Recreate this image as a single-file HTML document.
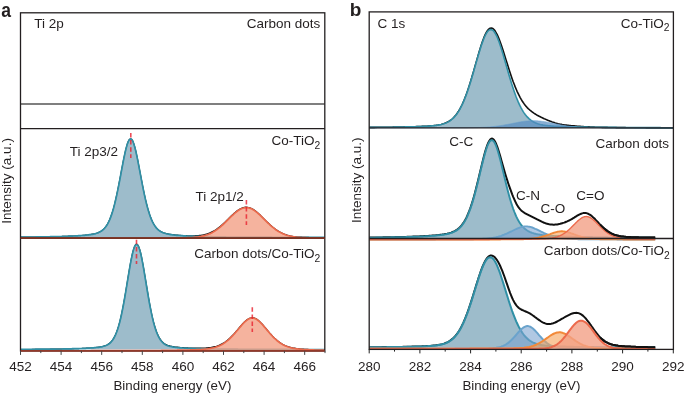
<!DOCTYPE html>
<html><head><meta charset="utf-8"><style>
html,body{margin:0;padding:0;background:#fff;}
body{width:685px;height:396px;overflow:hidden;position:relative;}
</style></head><body>
<svg width="685" height="396" viewBox="0 0 685 396" style="position:absolute;left:0;top:0;will-change:transform">
<rect width="685" height="396" fill="#fff"/>
<defs>
<clipPath id="ca"><rect x="20.5" y="12.8" width="304.3" height="338.1"/></clipPath>
<clipPath id="cb"><rect x="369.2" y="11.9" width="304.2" height="337.5"/></clipPath>
</defs>
<g clip-path="url(#ca)">
<line x1="20.5" y1="104" x2="324.8" y2="104" stroke="#555" stroke-width="1.7"/>
<path d="M20.5,237.1 21.5,237.1 22.5,237.1 23.5,237.1 24.5,237.1 25.5,237.1 26.5,237 27.5,237 28.5,237 29.5,237 30.5,237 31.5,237 32.5,237 33.5,237 34.5,237 35.5,237 36.5,236.9 37.5,236.9 38.5,236.9 39.5,236.9 40.5,236.9 41.5,236.9 42.5,236.9 43.5,236.8 44.5,236.8 45.5,236.8 46.5,236.8 47.5,236.8 48.5,236.8 49.5,236.7 50.5,236.7 51.5,236.7 52.5,236.7 53.5,236.7 54.5,236.6 55.5,236.6 56.5,236.6 57.5,236.6 58.5,236.5 59.5,236.5 60.5,236.5 61.5,236.5 62.5,236.4 63.5,236.4 64.5,236.4 65.5,236.3 66.5,236.3 67.5,236.3 68.5,236.2 69.5,236.2 70.5,236.1 71.5,236.1 72.5,236.1 73.5,236 74.5,236 75.5,235.9 76.5,235.8 77.5,235.8 78.5,235.7 79.5,235.7 80.5,235.6 81.5,235.5 82.5,235.4 83.5,235.3 84.5,235.3 85.5,235.2 86.5,235.1 87.5,235 88.5,234.8 89.5,234.7 90.5,234.6 91.5,234.4 92.5,234.2 93.5,234 94.5,233.8 95.5,233.6 96.5,233.3 97.5,232.9 98.5,232.6 99.5,232.1 100.5,231.6 101.5,230.9 102.5,230.2 103.5,229.3 104.5,228.3 105.5,227.1 106.5,225.7 107.5,224.1 108.5,222.2 109.5,220 110.5,217.6 111.5,214.8 112.5,211.7 113.5,208.3 114.5,204.6 115.5,200.5 116.5,196 117.5,191.3 118.5,186.4 119.5,181.2 120.5,176 121.5,170.6 122.5,165.3 123.5,160.2 124.5,155.3 125.5,150.8 126.5,146.8 127.5,143.5 128.5,141 129.5,139.4 130.5,138.8 131.5,139.2 132.5,140.6 133.5,142.9 134.5,146.1 135.5,149.9 136.5,154.3 137.5,159.1 138.5,164.3 139.5,169.5 140.5,174.9 141.5,180.2 142.5,185.4 143.5,190.3 144.5,195.1 145.5,199.6 146.5,203.7 147.5,207.6 148.5,211 149.5,214.2 150.5,217 151.5,219.5 152.5,221.7 153.5,223.7 154.5,225.3 155.5,226.8 156.5,228 157.5,229.1 158.5,230 159.5,230.7 160.5,231.4 161.5,231.9 162.5,232.4 163.5,232.8 164.5,233.1 165.5,233.4 166.5,233.7 167.5,233.9 168.5,234.1 169.5,234.3 170.5,234.4 171.5,234.6 172.5,234.7 173.5,234.8 174.5,234.9 175.5,235 176.5,235.1 177.5,235.2 178.5,235.3 179.5,235.4 180.5,235.4 181.5,235.5 182.5,235.6 183.5,235.6 184.5,235.7 185.5,235.7 186.5,235.7 187.5,235.8 188.5,235.8 189.5,235.8 190.5,235.8 191.5,235.8 192.5,235.8 193.5,235.8 194.5,235.8 195.5,235.7 196.5,235.7 197.5,235.6 198.5,235.5 199.5,235.4 200.5,235.3 201.5,235.2 202.5,235 203.5,234.8 204.5,234.6 205.5,234.3 206.5,234 207.5,233.7 208.5,233.4 209.5,233 210.5,232.6 211.5,232.1 212.5,231.6 213.5,231.1 214.5,230.5 215.5,229.9 216.5,229.2 217.5,228.5 218.5,227.7 219.5,227 220.5,226.1 221.5,225.3 222.5,224.4 223.5,223.5 224.5,222.6 225.5,221.6 226.5,220.6 227.5,219.6 228.5,218.7 229.5,217.7 230.5,216.7 231.5,215.7 232.5,214.8 233.5,213.8 234.5,213 235.5,212.1 236.5,211.3 237.5,210.6 238.5,209.9 239.5,209.3 240.5,208.7 241.5,208.2 242.5,207.9 243.5,207.6 244.5,207.4 245.5,207.2 246.5,207.2 247.5,207.3 248.5,207.5 249.5,207.7 250.5,208.1 251.5,208.5 252.5,209 253.5,209.6 254.5,210.2 255.5,211 256.5,211.8 257.5,212.6 258.5,213.5 259.5,214.4 260.5,215.3 261.5,216.3 262.5,217.3 263.5,218.3 264.5,219.3 265.5,220.3 266.5,221.3 267.5,222.3 268.5,223.2 269.5,224.2 270.5,225.1 271.5,226 272.5,226.9 273.5,227.7 274.5,228.5 275.5,229.2 276.5,229.9 277.5,230.6 278.5,231.2 279.5,231.8 280.5,232.4 281.5,232.9 282.5,233.4 283.5,233.8 284.5,234.2 285.5,234.6 286.5,234.9 287.5,235.2 288.5,235.5 289.5,235.7 290.5,236 291.5,236.2 292.5,236.3 293.5,236.5 294.5,236.6 295.5,236.8 296.5,236.9 297.5,237 298.5,237.1 299.5,237.1 300.5,237.2 301.5,237.2 302.5,237.3 303.5,237.3 304.5,237.4 305.5,237.4 306.5,237.4 307.5,237.4 308.5,237.4 309.5,237.5 310.5,237.5 311.5,237.5 312.5,237.5 313.5,237.5 314.5,237.5 315.5,237.5 316.5,237.5 317.5,237.5 318.5,237.5 319.5,237.5 320.5,237.5 321.5,237.5 322.5,237.5 323.5,237.5 324.5,237.5" fill="none" stroke="#111" stroke-width="1.2" stroke-linejoin="round"/>
<path d="M20.5,237.5 20.5,237.1 21.5,237.1 22.5,237.1 23.5,237.1 24.5,237.1 25.5,237 26.5,237 27.5,237 28.5,237 29.5,237 30.5,237 31.5,237 32.5,237 33.5,237 34.5,237 35.5,237 36.5,236.9 37.5,236.9 38.5,236.9 39.5,236.9 40.5,236.9 41.5,236.9 42.5,236.9 43.5,236.8 44.5,236.8 45.5,236.8 46.5,236.8 47.5,236.8 48.5,236.8 49.5,236.8 50.5,236.7 51.5,236.7 52.5,236.7 53.5,236.7 54.5,236.7 55.5,236.6 56.5,236.6 57.5,236.6 58.5,236.6 59.5,236.5 60.5,236.5 61.5,236.5 62.5,236.4 63.5,236.4 64.5,236.4 65.5,236.4 66.5,236.3 67.5,236.3 68.5,236.2 69.5,236.2 70.5,236.2 71.5,236.1 72.5,236.1 73.5,236 74.5,236 75.5,235.9 76.5,235.9 77.5,235.8 78.5,235.7 79.5,235.7 80.5,235.6 81.5,235.5 82.5,235.5 83.5,235.4 84.5,235.3 85.5,235.2 86.5,235.1 87.5,235 88.5,234.9 89.5,234.7 90.5,234.6 91.5,234.4 92.5,234.3 93.5,234.1 94.5,233.8 95.5,233.6 96.5,233.3 97.5,233 98.5,232.6 99.5,232.1 100.5,231.6 101.5,231 102.5,230.2 103.5,229.4 104.5,228.3 105.5,227.1 106.5,225.7 107.5,224.1 108.5,222.2 109.5,220.1 110.5,217.6 111.5,214.9 112.5,211.8 113.5,208.4 114.5,204.6 115.5,200.5 116.5,196.1 117.5,191.4 118.5,186.4 119.5,181.3 120.5,176 121.5,170.7 122.5,165.4 123.5,160.2 124.5,155.3 125.5,150.8 126.5,146.9 127.5,143.6 128.5,141.1 129.5,139.5 130.5,138.9 131.5,139.3 132.5,140.7 133.5,143 134.5,146.2 135.5,150 136.5,154.4 137.5,159.2 138.5,164.3 139.5,169.6 140.5,174.9 141.5,180.2 142.5,185.4 143.5,190.4 144.5,195.2 145.5,199.6 146.5,203.8 147.5,207.6 148.5,211.1 149.5,214.3 150.5,217.1 151.5,219.6 152.5,221.8 153.5,223.7 154.5,225.4 155.5,226.9 156.5,228.1 157.5,229.2 158.5,230.1 159.5,230.8 160.5,231.5 161.5,232 162.5,232.5 163.5,232.9 164.5,233.2 165.5,233.5 166.5,233.8 167.5,234 168.5,234.2 169.5,234.4 170.5,234.6 171.5,234.7 172.5,234.8 173.5,235 174.5,235.1 175.5,235.2 176.5,235.3 177.5,235.4 178.5,235.4 179.5,235.5 180.5,235.6 181.5,235.7 182.5,235.7 183.5,235.8 184.5,235.9 185.5,235.9 186.5,236 187.5,236 188.5,236.1 189.5,236.1 190.5,236.2 191.5,236.2 192.5,236.2 193.5,236.3 194.5,236.3 195.5,236.3 196.5,236.4 197.5,236.4 198.5,236.4 199.5,236.5 200.5,236.5 201.5,236.5 202.5,236.6 203.5,236.6 204.5,236.6 205.5,236.6 206.5,236.6 207.5,236.7 208.5,236.7 209.5,236.7 210.5,236.7 211.5,236.7 212.5,236.8 213.5,236.8 214.5,236.8 215.5,236.8 216.5,236.8 217.5,236.8 218.5,236.9 219.5,236.9 220.5,236.9 221.5,236.9 222.5,236.9 223.5,236.9 224.5,236.9 225.5,236.9 226.5,237 227.5,237 228.5,237 229.5,237 230.5,237 231.5,237 232.5,237 233.5,237 234.5,237 235.5,237 236.5,237.1 237.5,237.1 238.5,237.1 239.5,237.1 240.5,237.1 241.5,237.1 242.5,237.1 243.5,237.1 244.5,237.1 245.5,237.1 246.5,237.1 247.5,237.1 248.5,237.1 249.5,237.1 250.5,237.2 251.5,237.2 252.5,237.2 253.5,237.2 254.5,237.2 255.5,237.2 256.5,237.2 257.5,237.2 258.5,237.2 259.5,237.2 260.5,237.2 261.5,237.2 262.5,237.2 263.5,237.2 264.5,237.2 265.5,237.2 266.5,237.2 267.5,237.2 268.5,237.2 269.5,237.2 270.5,237.2 271.5,237.2 272.5,237.3 273.5,237.3 274.5,237.3 275.5,237.3 276.5,237.3 277.5,237.3 278.5,237.3 279.5,237.3 280.5,237.3 281.5,237.3 282.5,237.3 283.5,237.3 284.5,237.3 285.5,237.3 286.5,237.3 287.5,237.3 288.5,237.3 289.5,237.3 290.5,237.3 291.5,237.3 292.5,237.3 293.5,237.3 294.5,237.3 295.5,237.3 296.5,237.3 297.5,237.3 298.5,237.3 299.5,237.3 300.5,237.3 301.5,237.3 302.5,237.3 303.5,237.3 304.5,237.3 305.5,237.3 306.5,237.3 307.5,237.3 308.5,237.3 309.5,237.3 310.5,237.3 311.5,237.3 312.5,237.3 313.5,237.3 314.5,237.4 315.5,237.4 316.5,237.4 317.5,237.4 318.5,237.4 319.5,237.4 320.5,237.4 321.5,237.4 322.5,237.4 323.5,237.4 324.5,237.4 324.5,237.5Z" fill="#84abbe" fill-opacity="0.8" stroke="none"/>
<path d="M20.5,237.1 21.5,237.1 22.5,237.1 23.5,237.1 24.5,237.1 25.5,237 26.5,237 27.5,237 28.5,237 29.5,237 30.5,237 31.5,237 32.5,237 33.5,237 34.5,237 35.5,237 36.5,236.9 37.5,236.9 38.5,236.9 39.5,236.9 40.5,236.9 41.5,236.9 42.5,236.9 43.5,236.8 44.5,236.8 45.5,236.8 46.5,236.8 47.5,236.8 48.5,236.8 49.5,236.8 50.5,236.7 51.5,236.7 52.5,236.7 53.5,236.7 54.5,236.7 55.5,236.6 56.5,236.6 57.5,236.6 58.5,236.6 59.5,236.5 60.5,236.5 61.5,236.5 62.5,236.4 63.5,236.4 64.5,236.4 65.5,236.4 66.5,236.3 67.5,236.3 68.5,236.2 69.5,236.2 70.5,236.2 71.5,236.1 72.5,236.1 73.5,236 74.5,236 75.5,235.9 76.5,235.9 77.5,235.8 78.5,235.7 79.5,235.7 80.5,235.6 81.5,235.5 82.5,235.5 83.5,235.4 84.5,235.3 85.5,235.2 86.5,235.1 87.5,235 88.5,234.9 89.5,234.7 90.5,234.6 91.5,234.4 92.5,234.3 93.5,234.1 94.5,233.8 95.5,233.6 96.5,233.3 97.5,233 98.5,232.6 99.5,232.1 100.5,231.6 101.5,231 102.5,230.2 103.5,229.4 104.5,228.3 105.5,227.1 106.5,225.7 107.5,224.1 108.5,222.2 109.5,220.1 110.5,217.6 111.5,214.9 112.5,211.8 113.5,208.4 114.5,204.6 115.5,200.5 116.5,196.1 117.5,191.4 118.5,186.4 119.5,181.3 120.5,176 121.5,170.7 122.5,165.4 123.5,160.2 124.5,155.3 125.5,150.8 126.5,146.9 127.5,143.6 128.5,141.1 129.5,139.5 130.5,138.9 131.5,139.3 132.5,140.7 133.5,143 134.5,146.2 135.5,150 136.5,154.4 137.5,159.2 138.5,164.3 139.5,169.6 140.5,174.9 141.5,180.2 142.5,185.4 143.5,190.4 144.5,195.2 145.5,199.6 146.5,203.8 147.5,207.6 148.5,211.1 149.5,214.3 150.5,217.1 151.5,219.6 152.5,221.8 153.5,223.7 154.5,225.4 155.5,226.9 156.5,228.1 157.5,229.2 158.5,230.1 159.5,230.8 160.5,231.5 161.5,232 162.5,232.5 163.5,232.9 164.5,233.2 165.5,233.5 166.5,233.8 167.5,234 168.5,234.2 169.5,234.4 170.5,234.6 171.5,234.7 172.5,234.8 173.5,235 174.5,235.1 175.5,235.2 176.5,235.3 177.5,235.4 178.5,235.4 179.5,235.5 180.5,235.6 181.5,235.7 182.5,235.7 183.5,235.8 184.5,235.9 185.5,235.9 186.5,236 187.5,236 188.5,236.1 189.5,236.1 190.5,236.2 191.5,236.2 192.5,236.2 193.5,236.3 194.5,236.3 195.5,236.3 196.5,236.4 197.5,236.4 198.5,236.4 199.5,236.5 200.5,236.5 201.5,236.5 202.5,236.6 203.5,236.6 204.5,236.6 205.5,236.6 206.5,236.6 207.5,236.7 208.5,236.7 209.5,236.7 210.5,236.7 211.5,236.7 212.5,236.8 213.5,236.8 214.5,236.8 215.5,236.8 216.5,236.8 217.5,236.8 218.5,236.9 219.5,236.9 220.5,236.9 221.5,236.9 222.5,236.9 223.5,236.9 224.5,236.9 225.5,236.9 226.5,237 227.5,237 228.5,237 229.5,237 230.5,237 231.5,237 232.5,237 233.5,237 234.5,237 235.5,237 236.5,237.1 237.5,237.1 238.5,237.1 239.5,237.1 240.5,237.1 241.5,237.1 242.5,237.1 243.5,237.1 244.5,237.1 245.5,237.1 246.5,237.1 247.5,237.1 248.5,237.1 249.5,237.1 250.5,237.2 251.5,237.2 252.5,237.2 253.5,237.2 254.5,237.2 255.5,237.2 256.5,237.2 257.5,237.2 258.5,237.2 259.5,237.2 260.5,237.2 261.5,237.2 262.5,237.2 263.5,237.2 264.5,237.2 265.5,237.2 266.5,237.2 267.5,237.2 268.5,237.2 269.5,237.2 270.5,237.2 271.5,237.2 272.5,237.3 273.5,237.3 274.5,237.3 275.5,237.3 276.5,237.3 277.5,237.3 278.5,237.3 279.5,237.3 280.5,237.3 281.5,237.3 282.5,237.3 283.5,237.3 284.5,237.3 285.5,237.3 286.5,237.3 287.5,237.3 288.5,237.3 289.5,237.3 290.5,237.3 291.5,237.3 292.5,237.3 293.5,237.3 294.5,237.3 295.5,237.3 296.5,237.3 297.5,237.3 298.5,237.3 299.5,237.3 300.5,237.3 301.5,237.3 302.5,237.3 303.5,237.3 304.5,237.3 305.5,237.3 306.5,237.3 307.5,237.3 308.5,237.3 309.5,237.3 310.5,237.3 311.5,237.3 312.5,237.3 313.5,237.3 314.5,237.4 315.5,237.4 316.5,237.4 317.5,237.4 318.5,237.4 319.5,237.4 320.5,237.4 321.5,237.4 322.5,237.4 323.5,237.4 324.5,237.4" fill="none" stroke="#3090a6" stroke-width="1.7" stroke-linejoin="round"/>
<path d="M20.5,238.1 20.5,238.1 21.5,238.1 22.5,238.1 23.5,238.1 24.5,238.1 25.5,238.1 26.5,238.1 27.5,238.1 28.5,238.1 29.5,238.1 30.5,238.1 31.5,238.1 32.5,238.1 33.5,238.1 34.5,238.1 35.5,238.1 36.5,238.1 37.5,238.1 38.5,238.1 39.5,238.1 40.5,238.1 41.5,238.1 42.5,238.1 43.5,238.1 44.5,238.1 45.5,238.1 46.5,238.1 47.5,238.1 48.5,238.1 49.5,238.1 50.5,238.1 51.5,238.1 52.5,238.1 53.5,238.1 54.5,238.1 55.5,238.1 56.5,238.1 57.5,238.1 58.5,238.1 59.5,238.1 60.5,238.1 61.5,238.1 62.5,238.1 63.5,238.1 64.5,238.1 65.5,238.1 66.5,238.1 67.5,238.1 68.5,238.1 69.5,238.1 70.5,238.1 71.5,238.1 72.5,238.1 73.5,238.1 74.5,238.1 75.5,238.1 76.5,238.1 77.5,238.1 78.5,238.1 79.5,238.1 80.5,238.1 81.5,238.1 82.5,238.1 83.5,238.1 84.5,238.1 85.5,238.1 86.5,238.1 87.5,238.1 88.5,238.1 89.5,238.1 90.5,238.1 91.5,238.1 92.5,238.1 93.5,238.1 94.5,238.1 95.5,238.1 96.5,238.1 97.5,238.1 98.5,238.1 99.5,238.1 100.5,238.1 101.5,238.1 102.5,238.1 103.5,238.1 104.5,238.1 105.5,238.1 106.5,238.1 107.5,238.1 108.5,238.1 109.5,238.1 110.5,238.1 111.5,238.1 112.5,238.1 113.5,238.1 114.5,238.1 115.5,238.1 116.5,238.1 117.5,238.1 118.5,238 119.5,238 120.5,238 121.5,238 122.5,238 123.5,238 124.5,238 125.5,238 126.5,238 127.5,238 128.5,238 129.5,238 130.5,238 131.5,238 132.5,238 133.5,238 134.5,238 135.5,238 136.5,238 137.5,238 138.5,238 139.5,238 140.5,238 141.5,238 142.5,238 143.5,238 144.5,238 145.5,238 146.5,238 147.5,238 148.5,238 149.5,238 150.5,238 151.5,238 152.5,238 153.5,238 154.5,238 155.5,238 156.5,238 157.5,238 158.5,238 159.5,238 160.5,238 161.5,238 162.5,238 163.5,238 164.5,238 165.5,238 166.5,238 167.5,238 168.5,238 169.5,238 170.5,238 171.5,238 172.5,237.9 173.5,237.9 174.5,237.9 175.5,237.9 176.5,237.9 177.5,237.9 178.5,237.9 179.5,237.9 180.5,237.9 181.5,237.9 182.5,237.8 183.5,237.8 184.5,237.8 185.5,237.8 186.5,237.8 187.5,237.7 188.5,237.7 189.5,237.6 190.5,237.6 191.5,237.5 192.5,237.5 193.5,237.4 194.5,237.3 195.5,237.2 196.5,237.1 197.5,237 198.5,236.9 199.5,236.7 200.5,236.5 201.5,236.3 202.5,236.1 203.5,235.9 204.5,235.6 205.5,235.3 206.5,235 207.5,234.7 208.5,234.3 209.5,233.9 210.5,233.4 211.5,232.9 212.5,232.4 213.5,231.8 214.5,231.2 215.5,230.6 216.5,229.9 217.5,229.2 218.5,228.4 219.5,227.6 220.5,226.8 221.5,225.9 222.5,225 223.5,224.1 224.5,223.1 225.5,222.2 226.5,221.2 227.5,220.2 228.5,219.2 229.5,218.2 230.5,217.2 231.5,216.2 232.5,215.3 233.5,214.3 234.5,213.4 235.5,212.6 236.5,211.8 237.5,211 238.5,210.3 239.5,209.7 240.5,209.1 241.5,208.7 242.5,208.3 243.5,208 244.5,207.8 245.5,207.6 246.5,207.6 247.5,207.7 248.5,207.8 249.5,208.1 250.5,208.4 251.5,208.8 252.5,209.3 253.5,209.9 254.5,210.6 255.5,211.3 256.5,212.1 257.5,212.9 258.5,213.8 259.5,214.7 260.5,215.6 261.5,216.6 262.5,217.6 263.5,218.6 264.5,219.6 265.5,220.6 266.5,221.6 267.5,222.6 268.5,223.5 269.5,224.5 270.5,225.4 271.5,226.3 272.5,227.1 273.5,227.9 274.5,228.7 275.5,229.5 276.5,230.2 277.5,230.9 278.5,231.5 279.5,232.1 280.5,232.6 281.5,233.1 282.5,233.6 283.5,234 284.5,234.4 285.5,234.8 286.5,235.2 287.5,235.5 288.5,235.7 289.5,236 290.5,236.2 291.5,236.4 292.5,236.6 293.5,236.8 294.5,236.9 295.5,237 296.5,237.2 297.5,237.3 298.5,237.4 299.5,237.4 300.5,237.5 301.5,237.6 302.5,237.6 303.5,237.7 304.5,237.7 305.5,237.7 306.5,237.8 307.5,237.8 308.5,237.8 309.5,237.8 310.5,237.9 311.5,237.9 312.5,237.9 313.5,237.9 314.5,237.9 315.5,237.9 316.5,237.9 317.5,237.9 318.5,237.9 319.5,237.9 320.5,238 321.5,238 322.5,238 323.5,238 324.5,238 324.5,238.1Z" fill="#f2a086" fill-opacity="0.8" stroke="none"/>
<path d="M20.5,238.1 21.5,238.1 22.5,238.1 23.5,238.1 24.5,238.1 25.5,238.1 26.5,238.1 27.5,238.1 28.5,238.1 29.5,238.1 30.5,238.1 31.5,238.1 32.5,238.1 33.5,238.1 34.5,238.1 35.5,238.1 36.5,238.1 37.5,238.1 38.5,238.1 39.5,238.1 40.5,238.1 41.5,238.1 42.5,238.1 43.5,238.1 44.5,238.1 45.5,238.1 46.5,238.1 47.5,238.1 48.5,238.1 49.5,238.1 50.5,238.1 51.5,238.1 52.5,238.1 53.5,238.1 54.5,238.1 55.5,238.1 56.5,238.1 57.5,238.1 58.5,238.1 59.5,238.1 60.5,238.1 61.5,238.1 62.5,238.1 63.5,238.1 64.5,238.1 65.5,238.1 66.5,238.1 67.5,238.1 68.5,238.1 69.5,238.1 70.5,238.1 71.5,238.1 72.5,238.1 73.5,238.1 74.5,238.1 75.5,238.1 76.5,238.1 77.5,238.1 78.5,238.1 79.5,238.1 80.5,238.1 81.5,238.1 82.5,238.1 83.5,238.1 84.5,238.1 85.5,238.1 86.5,238.1 87.5,238.1 88.5,238.1 89.5,238.1 90.5,238.1 91.5,238.1 92.5,238.1 93.5,238.1 94.5,238.1 95.5,238.1 96.5,238.1 97.5,238.1 98.5,238.1 99.5,238.1 100.5,238.1 101.5,238.1 102.5,238.1 103.5,238.1 104.5,238.1 105.5,238.1 106.5,238.1 107.5,238.1 108.5,238.1 109.5,238.1 110.5,238.1 111.5,238.1 112.5,238.1 113.5,238.1 114.5,238.1 115.5,238.1 116.5,238.1 117.5,238.1 118.5,238 119.5,238 120.5,238 121.5,238 122.5,238 123.5,238 124.5,238 125.5,238 126.5,238 127.5,238 128.5,238 129.5,238 130.5,238 131.5,238 132.5,238 133.5,238 134.5,238 135.5,238 136.5,238 137.5,238 138.5,238 139.5,238 140.5,238 141.5,238 142.5,238 143.5,238 144.5,238 145.5,238 146.5,238 147.5,238 148.5,238 149.5,238 150.5,238 151.5,238 152.5,238 153.5,238 154.5,238 155.5,238 156.5,238 157.5,238 158.5,238 159.5,238 160.5,238 161.5,238 162.5,238 163.5,238 164.5,238 165.5,238 166.5,238 167.5,238 168.5,238 169.5,238 170.5,238 171.5,238 172.5,237.9 173.5,237.9 174.5,237.9 175.5,237.9 176.5,237.9 177.5,237.9 178.5,237.9 179.5,237.9 180.5,237.9 181.5,237.9 182.5,237.8 183.5,237.8 184.5,237.8 185.5,237.8 186.5,237.8 187.5,237.7 188.5,237.7 189.5,237.6 190.5,237.6 191.5,237.5 192.5,237.5 193.5,237.4 194.5,237.3 195.5,237.2 196.5,237.1 197.5,237 198.5,236.9 199.5,236.7 200.5,236.5 201.5,236.3 202.5,236.1 203.5,235.9 204.5,235.6 205.5,235.3 206.5,235 207.5,234.7 208.5,234.3 209.5,233.9 210.5,233.4 211.5,232.9 212.5,232.4 213.5,231.8 214.5,231.2 215.5,230.6 216.5,229.9 217.5,229.2 218.5,228.4 219.5,227.6 220.5,226.8 221.5,225.9 222.5,225 223.5,224.1 224.5,223.1 225.5,222.2 226.5,221.2 227.5,220.2 228.5,219.2 229.5,218.2 230.5,217.2 231.5,216.2 232.5,215.3 233.5,214.3 234.5,213.4 235.5,212.6 236.5,211.8 237.5,211 238.5,210.3 239.5,209.7 240.5,209.1 241.5,208.7 242.5,208.3 243.5,208 244.5,207.8 245.5,207.6 246.5,207.6 247.5,207.7 248.5,207.8 249.5,208.1 250.5,208.4 251.5,208.8 252.5,209.3 253.5,209.9 254.5,210.6 255.5,211.3 256.5,212.1 257.5,212.9 258.5,213.8 259.5,214.7 260.5,215.6 261.5,216.6 262.5,217.6 263.5,218.6 264.5,219.6 265.5,220.6 266.5,221.6 267.5,222.6 268.5,223.5 269.5,224.5 270.5,225.4 271.5,226.3 272.5,227.1 273.5,227.9 274.5,228.7 275.5,229.5 276.5,230.2 277.5,230.9 278.5,231.5 279.5,232.1 280.5,232.6 281.5,233.1 282.5,233.6 283.5,234 284.5,234.4 285.5,234.8 286.5,235.2 287.5,235.5 288.5,235.7 289.5,236 290.5,236.2 291.5,236.4 292.5,236.6 293.5,236.8 294.5,236.9 295.5,237 296.5,237.2 297.5,237.3 298.5,237.4 299.5,237.4 300.5,237.5 301.5,237.6 302.5,237.6 303.5,237.7 304.5,237.7 305.5,237.7 306.5,237.8 307.5,237.8 308.5,237.8 309.5,237.8 310.5,237.9 311.5,237.9 312.5,237.9 313.5,237.9 314.5,237.9 315.5,237.9 316.5,237.9 317.5,237.9 318.5,237.9 319.5,237.9 320.5,238 321.5,238 322.5,238 323.5,238 324.5,238" fill="none" stroke="#ec6a4c" stroke-width="1.7" stroke-linejoin="round"/>
<path d="M20.5,349.5 21.5,349.5 22.5,349.5 23.5,349.5 24.5,349.5 25.5,349.5 26.5,349.5 27.5,349.5 28.5,349.5 29.5,349.5 30.5,349.5 31.5,349.5 32.5,349.4 33.5,349.4 34.5,349.4 35.5,349.4 36.5,349.4 37.5,349.4 38.5,349.4 39.5,349.4 40.5,349.4 41.5,349.4 42.5,349.3 43.5,349.3 44.5,349.3 45.5,349.3 46.5,349.3 47.5,349.3 48.5,349.3 49.5,349.3 50.5,349.2 51.5,349.2 52.5,349.2 53.5,349.2 54.5,349.2 55.5,349.2 56.5,349.1 57.5,349.1 58.5,349.1 59.5,349.1 60.5,349.1 61.5,349.1 62.5,349 63.5,349 64.5,349 65.5,349 66.5,348.9 67.5,348.9 68.5,348.9 69.5,348.9 70.5,348.8 71.5,348.8 72.5,348.8 73.5,348.8 74.5,348.7 75.5,348.7 76.5,348.7 77.5,348.6 78.5,348.6 79.5,348.5 80.5,348.5 81.5,348.5 82.5,348.4 83.5,348.4 84.5,348.3 85.5,348.3 86.5,348.2 87.5,348.2 88.5,348.1 89.5,348 90.5,348 91.5,347.9 92.5,347.8 93.5,347.7 94.5,347.6 95.5,347.5 96.5,347.4 97.5,347.3 98.5,347.2 99.5,347 100.5,346.9 101.5,346.7 102.5,346.5 103.5,346.2 104.5,345.9 105.5,345.6 106.5,345.2 107.5,344.7 108.5,344 109.5,343.3 110.5,342.4 111.5,341.4 112.5,340.1 113.5,338.6 114.5,336.8 115.5,334.7 116.5,332.3 117.5,329.5 118.5,326.4 119.5,322.8 120.5,318.8 121.5,314.3 122.5,309.5 123.5,304.3 124.5,298.8 125.5,293 126.5,287 127.5,280.9 128.5,274.8 129.5,268.8 130.5,263.2 131.5,258 132.5,253.4 133.5,249.6 134.5,246.7 135.5,244.8 136.5,244.1 137.5,244.6 138.5,246.2 139.5,248.9 140.5,252.5 141.5,256.9 142.5,262 143.5,267.6 144.5,273.5 145.5,279.5 146.5,285.6 147.5,291.7 148.5,297.5 149.5,303.1 150.5,308.4 151.5,313.3 152.5,317.8 153.5,321.9 154.5,325.5 155.5,328.8 156.5,331.6 157.5,334.1 158.5,336.2 159.5,338.1 160.5,339.6 161.5,340.9 162.5,342 163.5,342.9 164.5,343.7 165.5,344.3 166.5,344.8 167.5,345.3 168.5,345.6 169.5,345.9 170.5,346.2 171.5,346.4 172.5,346.6 173.5,346.7 174.5,346.9 175.5,347 176.5,347.1 177.5,347.2 178.5,347.3 179.5,347.4 180.5,347.5 181.5,347.6 182.5,347.6 183.5,347.7 184.5,347.8 185.5,347.8 186.5,347.9 187.5,347.9 188.5,348 189.5,348 190.5,348 191.5,348.1 192.5,348.1 193.5,348.1 194.5,348.1 195.5,348.1 196.5,348.2 197.5,348.2 198.5,348.2 199.5,348.2 200.5,348.1 201.5,348.1 202.5,348.1 203.5,348.1 204.5,348 205.5,348 206.5,347.9 207.5,347.8 208.5,347.7 209.5,347.6 210.5,347.5 211.5,347.3 212.5,347.1 213.5,346.9 214.5,346.7 215.5,346.5 216.5,346.2 217.5,345.8 218.5,345.5 219.5,345.1 220.5,344.6 221.5,344.1 222.5,343.6 223.5,343 224.5,342.4 225.5,341.7 226.5,340.9 227.5,340.1 228.5,339.3 229.5,338.4 230.5,337.5 231.5,336.5 232.5,335.4 233.5,334.4 234.5,333.3 235.5,332.1 236.5,331 237.5,329.8 238.5,328.6 239.5,327.4 240.5,326.2 241.5,325.1 242.5,324 243.5,322.9 244.5,321.9 245.5,321 246.5,320.1 247.5,319.4 248.5,318.8 249.5,318.3 250.5,318 251.5,317.8 252.5,317.7 253.5,317.8 254.5,318.1 255.5,318.5 256.5,319.1 257.5,319.7 258.5,320.5 259.5,321.4 260.5,322.4 261.5,323.4 262.5,324.5 263.5,325.7 264.5,326.8 265.5,328 266.5,329.2 267.5,330.4 268.5,331.6 269.5,332.8 270.5,333.9 271.5,335 272.5,336.1 273.5,337.1 274.5,338.1 275.5,339 276.5,339.9 277.5,340.8 278.5,341.5 279.5,342.3 280.5,343 281.5,343.6 282.5,344.2 283.5,344.7 284.5,345.2 285.5,345.7 286.5,346.1 287.5,346.5 288.5,346.8 289.5,347.1 290.5,347.4 291.5,347.6 292.5,347.9 293.5,348.1 294.5,348.2 295.5,348.4 296.5,348.6 297.5,348.7 298.5,348.8 299.5,348.9 300.5,349 301.5,349.1 302.5,349.2 303.5,349.2 304.5,349.3 305.5,349.3 306.5,349.4 307.5,349.4 308.5,349.5 309.5,349.5 310.5,349.6 311.5,349.6 312.5,349.6 313.5,349.7 314.5,349.7 315.5,349.7 316.5,349.8 317.5,349.8 318.5,349.8 319.5,349.8 320.5,349.8 321.5,349.9 322.5,349.9 323.5,349.9 324.5,349.9" fill="none" stroke="#111" stroke-width="1.2" stroke-linejoin="round"/>
<path d="M20.5,349.6 20.5,349.3 21.5,349.3 22.5,349.3 23.5,349.3 24.5,349.3 25.5,349.3 26.5,349.3 27.5,349.3 28.5,349.3 29.5,349.3 30.5,349.3 31.5,349.3 32.5,349.3 33.5,349.3 34.5,349.3 35.5,349.2 36.5,349.2 37.5,349.2 38.5,349.2 39.5,349.2 40.5,349.2 41.5,349.2 42.5,349.2 43.5,349.2 44.5,349.2 45.5,349.2 46.5,349.2 47.5,349.2 48.5,349.1 49.5,349.1 50.5,349.1 51.5,349.1 52.5,349.1 53.5,349.1 54.5,349.1 55.5,349.1 56.5,349 57.5,349 58.5,349 59.5,349 60.5,349 61.5,349 62.5,349 63.5,348.9 64.5,348.9 65.5,348.9 66.5,348.9 67.5,348.9 68.5,348.8 69.5,348.8 70.5,348.8 71.5,348.8 72.5,348.7 73.5,348.7 74.5,348.7 75.5,348.7 76.5,348.6 77.5,348.6 78.5,348.6 79.5,348.5 80.5,348.5 81.5,348.5 82.5,348.4 83.5,348.4 84.5,348.3 85.5,348.3 86.5,348.2 87.5,348.2 88.5,348.1 89.5,348.1 90.5,348 91.5,347.9 92.5,347.9 93.5,347.8 94.5,347.7 95.5,347.6 96.5,347.5 97.5,347.4 98.5,347.3 99.5,347.1 100.5,347 101.5,346.8 102.5,346.6 103.5,346.3 104.5,346 105.5,345.7 106.5,345.3 107.5,344.8 108.5,344.2 109.5,343.5 110.5,342.6 111.5,341.5 112.5,340.3 113.5,338.8 114.5,337 115.5,334.9 116.5,332.5 117.5,329.7 118.5,326.6 119.5,323 120.5,319 121.5,314.6 122.5,309.7 123.5,304.5 124.5,299 125.5,293.2 126.5,287.2 127.5,281.1 128.5,275 129.5,269.1 130.5,263.4 131.5,258.2 132.5,253.6 133.5,249.8 134.5,246.9 135.5,245.1 136.5,244.4 137.5,244.9 138.5,246.5 139.5,249.2 140.5,252.8 141.5,257.3 142.5,262.3 143.5,267.9 144.5,273.8 145.5,279.9 146.5,286 147.5,292 148.5,297.9 149.5,303.5 150.5,308.7 151.5,313.6 152.5,318.1 153.5,322.2 154.5,325.9 155.5,329.1 156.5,332 157.5,334.5 158.5,336.6 159.5,338.4 160.5,340 161.5,341.3 162.5,342.4 163.5,343.3 164.5,344.1 165.5,344.7 166.5,345.2 167.5,345.6 168.5,346 169.5,346.3 170.5,346.5 171.5,346.7 172.5,346.9 173.5,347.1 174.5,347.2 175.5,347.4 176.5,347.5 177.5,347.6 178.5,347.7 179.5,347.8 180.5,347.8 181.5,347.9 182.5,348 183.5,348 184.5,348.1 185.5,348.2 186.5,348.2 187.5,348.3 188.5,348.3 189.5,348.4 190.5,348.4 191.5,348.4 192.5,348.5 193.5,348.5 194.5,348.6 195.5,348.6 196.5,348.6 197.5,348.7 198.5,348.7 199.5,348.7 200.5,348.7 201.5,348.8 202.5,348.8 203.5,348.8 204.5,348.8 205.5,348.9 206.5,348.9 207.5,348.9 208.5,348.9 209.5,348.9 210.5,349 211.5,349 212.5,349 213.5,349 214.5,349 215.5,349 216.5,349 217.5,349.1 218.5,349.1 219.5,349.1 220.5,349.1 221.5,349.1 222.5,349.1 223.5,349.1 224.5,349.1 225.5,349.1 226.5,349.2 227.5,349.2 228.5,349.2 229.5,349.2 230.5,349.2 231.5,349.2 232.5,349.2 233.5,349.2 234.5,349.2 235.5,349.2 236.5,349.2 237.5,349.2 238.5,349.3 239.5,349.3 240.5,349.3 241.5,349.3 242.5,349.3 243.5,349.3 244.5,349.3 245.5,349.3 246.5,349.3 247.5,349.3 248.5,349.3 249.5,349.3 250.5,349.3 251.5,349.3 252.5,349.3 253.5,349.3 254.5,349.3 255.5,349.3 256.5,349.3 257.5,349.4 258.5,349.4 259.5,349.4 260.5,349.4 261.5,349.4 262.5,349.4 263.5,349.4 264.5,349.4 265.5,349.4 266.5,349.4 267.5,349.4 268.5,349.4 269.5,349.4 270.5,349.4 271.5,349.4 272.5,349.4 273.5,349.4 274.5,349.4 275.5,349.4 276.5,349.4 277.5,349.4 278.5,349.4 279.5,349.4 280.5,349.4 281.5,349.4 282.5,349.4 283.5,349.4 284.5,349.4 285.5,349.4 286.5,349.4 287.5,349.4 288.5,349.4 289.5,349.4 290.5,349.4 291.5,349.4 292.5,349.5 293.5,349.5 294.5,349.5 295.5,349.5 296.5,349.5 297.5,349.5 298.5,349.5 299.5,349.5 300.5,349.5 301.5,349.5 302.5,349.5 303.5,349.5 304.5,349.5 305.5,349.5 306.5,349.5 307.5,349.5 308.5,349.5 309.5,349.5 310.5,349.5 311.5,349.5 312.5,349.5 313.5,349.5 314.5,349.5 315.5,349.5 316.5,349.5 317.5,349.5 318.5,349.5 319.5,349.5 320.5,349.5 321.5,349.5 322.5,349.5 323.5,349.5 324.5,349.5 324.5,349.6Z" fill="#84abbe" fill-opacity="0.8" stroke="none"/>
<path d="M20.5,349.3 21.5,349.3 22.5,349.3 23.5,349.3 24.5,349.3 25.5,349.3 26.5,349.3 27.5,349.3 28.5,349.3 29.5,349.3 30.5,349.3 31.5,349.3 32.5,349.3 33.5,349.3 34.5,349.3 35.5,349.2 36.5,349.2 37.5,349.2 38.5,349.2 39.5,349.2 40.5,349.2 41.5,349.2 42.5,349.2 43.5,349.2 44.5,349.2 45.5,349.2 46.5,349.2 47.5,349.2 48.5,349.1 49.5,349.1 50.5,349.1 51.5,349.1 52.5,349.1 53.5,349.1 54.5,349.1 55.5,349.1 56.5,349 57.5,349 58.5,349 59.5,349 60.5,349 61.5,349 62.5,349 63.5,348.9 64.5,348.9 65.5,348.9 66.5,348.9 67.5,348.9 68.5,348.8 69.5,348.8 70.5,348.8 71.5,348.8 72.5,348.7 73.5,348.7 74.5,348.7 75.5,348.7 76.5,348.6 77.5,348.6 78.5,348.6 79.5,348.5 80.5,348.5 81.5,348.5 82.5,348.4 83.5,348.4 84.5,348.3 85.5,348.3 86.5,348.2 87.5,348.2 88.5,348.1 89.5,348.1 90.5,348 91.5,347.9 92.5,347.9 93.5,347.8 94.5,347.7 95.5,347.6 96.5,347.5 97.5,347.4 98.5,347.3 99.5,347.1 100.5,347 101.5,346.8 102.5,346.6 103.5,346.3 104.5,346 105.5,345.7 106.5,345.3 107.5,344.8 108.5,344.2 109.5,343.5 110.5,342.6 111.5,341.5 112.5,340.3 113.5,338.8 114.5,337 115.5,334.9 116.5,332.5 117.5,329.7 118.5,326.6 119.5,323 120.5,319 121.5,314.6 122.5,309.7 123.5,304.5 124.5,299 125.5,293.2 126.5,287.2 127.5,281.1 128.5,275 129.5,269.1 130.5,263.4 131.5,258.2 132.5,253.6 133.5,249.8 134.5,246.9 135.5,245.1 136.5,244.4 137.5,244.9 138.5,246.5 139.5,249.2 140.5,252.8 141.5,257.3 142.5,262.3 143.5,267.9 144.5,273.8 145.5,279.9 146.5,286 147.5,292 148.5,297.9 149.5,303.5 150.5,308.7 151.5,313.6 152.5,318.1 153.5,322.2 154.5,325.9 155.5,329.1 156.5,332 157.5,334.5 158.5,336.6 159.5,338.4 160.5,340 161.5,341.3 162.5,342.4 163.5,343.3 164.5,344.1 165.5,344.7 166.5,345.2 167.5,345.6 168.5,346 169.5,346.3 170.5,346.5 171.5,346.7 172.5,346.9 173.5,347.1 174.5,347.2 175.5,347.4 176.5,347.5 177.5,347.6 178.5,347.7 179.5,347.8 180.5,347.8 181.5,347.9 182.5,348 183.5,348 184.5,348.1 185.5,348.2 186.5,348.2 187.5,348.3 188.5,348.3 189.5,348.4 190.5,348.4 191.5,348.4 192.5,348.5 193.5,348.5 194.5,348.6 195.5,348.6 196.5,348.6 197.5,348.7 198.5,348.7 199.5,348.7 200.5,348.7 201.5,348.8 202.5,348.8 203.5,348.8 204.5,348.8 205.5,348.9 206.5,348.9 207.5,348.9 208.5,348.9 209.5,348.9 210.5,349 211.5,349 212.5,349 213.5,349 214.5,349 215.5,349 216.5,349 217.5,349.1 218.5,349.1 219.5,349.1 220.5,349.1 221.5,349.1 222.5,349.1 223.5,349.1 224.5,349.1 225.5,349.1 226.5,349.2 227.5,349.2 228.5,349.2 229.5,349.2 230.5,349.2 231.5,349.2 232.5,349.2 233.5,349.2 234.5,349.2 235.5,349.2 236.5,349.2 237.5,349.2 238.5,349.3 239.5,349.3 240.5,349.3 241.5,349.3 242.5,349.3 243.5,349.3 244.5,349.3 245.5,349.3 246.5,349.3 247.5,349.3 248.5,349.3 249.5,349.3 250.5,349.3 251.5,349.3 252.5,349.3 253.5,349.3 254.5,349.3 255.5,349.3 256.5,349.3 257.5,349.4 258.5,349.4 259.5,349.4 260.5,349.4 261.5,349.4 262.5,349.4 263.5,349.4 264.5,349.4 265.5,349.4 266.5,349.4 267.5,349.4 268.5,349.4 269.5,349.4 270.5,349.4 271.5,349.4 272.5,349.4 273.5,349.4 274.5,349.4 275.5,349.4 276.5,349.4 277.5,349.4 278.5,349.4 279.5,349.4 280.5,349.4 281.5,349.4 282.5,349.4 283.5,349.4 284.5,349.4 285.5,349.4 286.5,349.4 287.5,349.4 288.5,349.4 289.5,349.4 290.5,349.4 291.5,349.4 292.5,349.5 293.5,349.5 294.5,349.5 295.5,349.5 296.5,349.5 297.5,349.5 298.5,349.5 299.5,349.5 300.5,349.5 301.5,349.5 302.5,349.5 303.5,349.5 304.5,349.5 305.5,349.5 306.5,349.5 307.5,349.5 308.5,349.5 309.5,349.5 310.5,349.5 311.5,349.5 312.5,349.5 313.5,349.5 314.5,349.5 315.5,349.5 316.5,349.5 317.5,349.5 318.5,349.5 319.5,349.5 320.5,349.5 321.5,349.5 322.5,349.5 323.5,349.5 324.5,349.5" fill="none" stroke="#3090a6" stroke-width="1.7" stroke-linejoin="round"/>
<path d="M20.5,350.9 20.5,350.8 21.5,350.8 22.5,350.8 23.5,350.8 24.5,350.8 25.5,350.8 26.5,350.8 27.5,350.8 28.5,350.8 29.5,350.8 30.5,350.8 31.5,350.8 32.5,350.8 33.5,350.8 34.5,350.8 35.5,350.8 36.5,350.8 37.5,350.8 38.5,350.8 39.5,350.8 40.5,350.8 41.5,350.8 42.5,350.8 43.5,350.8 44.5,350.8 45.5,350.8 46.5,350.8 47.5,350.8 48.5,350.8 49.5,350.8 50.5,350.8 51.5,350.8 52.5,350.8 53.5,350.8 54.5,350.8 55.5,350.8 56.5,350.8 57.5,350.8 58.5,350.8 59.5,350.8 60.5,350.8 61.5,350.8 62.5,350.8 63.5,350.8 64.5,350.8 65.5,350.8 66.5,350.8 67.5,350.8 68.5,350.8 69.5,350.8 70.5,350.8 71.5,350.8 72.5,350.8 73.5,350.8 74.5,350.8 75.5,350.8 76.5,350.8 77.5,350.8 78.5,350.8 79.5,350.8 80.5,350.8 81.5,350.8 82.5,350.8 83.5,350.8 84.5,350.8 85.5,350.8 86.5,350.8 87.5,350.8 88.5,350.8 89.5,350.8 90.5,350.8 91.5,350.7 92.5,350.7 93.5,350.7 94.5,350.7 95.5,350.7 96.5,350.7 97.5,350.7 98.5,350.7 99.5,350.7 100.5,350.7 101.5,350.7 102.5,350.7 103.5,350.7 104.5,350.7 105.5,350.7 106.5,350.7 107.5,350.7 108.5,350.7 109.5,350.7 110.5,350.7 111.5,350.7 112.5,350.7 113.5,350.7 114.5,350.7 115.5,350.7 116.5,350.7 117.5,350.7 118.5,350.7 119.5,350.7 120.5,350.7 121.5,350.7 122.5,350.7 123.5,350.7 124.5,350.7 125.5,350.7 126.5,350.7 127.5,350.7 128.5,350.6 129.5,350.6 130.5,350.6 131.5,350.6 132.5,350.6 133.5,350.6 134.5,350.6 135.5,350.6 136.5,350.6 137.5,350.6 138.5,350.6 139.5,350.6 140.5,350.6 141.5,350.6 142.5,350.6 143.5,350.6 144.5,350.6 145.5,350.6 146.5,350.6 147.5,350.6 148.5,350.5 149.5,350.5 150.5,350.5 151.5,350.5 152.5,350.5 153.5,350.5 154.5,350.5 155.5,350.5 156.5,350.5 157.5,350.5 158.5,350.5 159.5,350.5 160.5,350.5 161.5,350.4 162.5,350.4 163.5,350.4 164.5,350.4 165.5,350.4 166.5,350.4 167.5,350.4 168.5,350.4 169.5,350.4 170.5,350.3 171.5,350.3 172.5,350.3 173.5,350.3 174.5,350.3 175.5,350.3 176.5,350.3 177.5,350.2 178.5,350.2 179.5,350.2 180.5,350.2 181.5,350.2 182.5,350.1 183.5,350.1 184.5,350.1 185.5,350.1 186.5,350.1 187.5,350 188.5,350 189.5,350 190.5,349.9 191.5,349.9 192.5,349.9 193.5,349.8 194.5,349.8 195.5,349.8 196.5,349.7 197.5,349.7 198.5,349.6 199.5,349.6 200.5,349.5 201.5,349.4 202.5,349.4 203.5,349.3 204.5,349.2 205.5,349.1 206.5,349 207.5,348.9 208.5,348.7 209.5,348.6 210.5,348.4 211.5,348.2 212.5,348 213.5,347.8 214.5,347.5 215.5,347.2 216.5,346.9 217.5,346.5 218.5,346.1 219.5,345.7 220.5,345.2 221.5,344.7 222.5,344.2 223.5,343.6 224.5,342.9 225.5,342.2 226.5,341.4 227.5,340.6 228.5,339.8 229.5,338.9 230.5,337.9 231.5,336.9 232.5,335.9 233.5,334.8 234.5,333.7 235.5,332.5 236.5,331.3 237.5,330.2 238.5,329 239.5,327.8 240.5,326.6 241.5,325.4 242.5,324.3 243.5,323.2 244.5,322.2 245.5,321.3 246.5,320.4 247.5,319.7 248.5,319.1 249.5,318.6 250.5,318.2 251.5,318 252.5,318 253.5,318.1 254.5,318.4 255.5,318.8 256.5,319.3 257.5,320 258.5,320.8 259.5,321.6 260.5,322.6 261.5,323.7 262.5,324.7 263.5,325.9 264.5,327.1 265.5,328.2 266.5,329.4 267.5,330.6 268.5,331.8 269.5,333 270.5,334.1 271.5,335.2 272.5,336.3 273.5,337.3 274.5,338.3 275.5,339.2 276.5,340.1 277.5,341 278.5,341.7 279.5,342.5 280.5,343.2 281.5,343.8 282.5,344.4 283.5,344.9 284.5,345.4 285.5,345.9 286.5,346.3 287.5,346.7 288.5,347 289.5,347.3 290.5,347.6 291.5,347.9 292.5,348.1 293.5,348.3 294.5,348.5 295.5,348.6 296.5,348.8 297.5,348.9 298.5,349 299.5,349.1 300.5,349.2 301.5,349.3 302.5,349.4 303.5,349.5 304.5,349.5 305.5,349.6 306.5,349.6 307.5,349.7 308.5,349.7 309.5,349.8 310.5,349.8 311.5,349.9 312.5,349.9 313.5,349.9 314.5,350 315.5,350 316.5,350 317.5,350 318.5,350.1 319.5,350.1 320.5,350.1 321.5,350.1 322.5,350.2 323.5,350.2 324.5,350.2 324.5,350.9Z" fill="#f2a086" fill-opacity="0.8" stroke="none"/>
<path d="M20.5,350.8 21.5,350.8 22.5,350.8 23.5,350.8 24.5,350.8 25.5,350.8 26.5,350.8 27.5,350.8 28.5,350.8 29.5,350.8 30.5,350.8 31.5,350.8 32.5,350.8 33.5,350.8 34.5,350.8 35.5,350.8 36.5,350.8 37.5,350.8 38.5,350.8 39.5,350.8 40.5,350.8 41.5,350.8 42.5,350.8 43.5,350.8 44.5,350.8 45.5,350.8 46.5,350.8 47.5,350.8 48.5,350.8 49.5,350.8 50.5,350.8 51.5,350.8 52.5,350.8 53.5,350.8 54.5,350.8 55.5,350.8 56.5,350.8 57.5,350.8 58.5,350.8 59.5,350.8 60.5,350.8 61.5,350.8 62.5,350.8 63.5,350.8 64.5,350.8 65.5,350.8 66.5,350.8 67.5,350.8 68.5,350.8 69.5,350.8 70.5,350.8 71.5,350.8 72.5,350.8 73.5,350.8 74.5,350.8 75.5,350.8 76.5,350.8 77.5,350.8 78.5,350.8 79.5,350.8 80.5,350.8 81.5,350.8 82.5,350.8 83.5,350.8 84.5,350.8 85.5,350.8 86.5,350.8 87.5,350.8 88.5,350.8 89.5,350.8 90.5,350.8 91.5,350.7 92.5,350.7 93.5,350.7 94.5,350.7 95.5,350.7 96.5,350.7 97.5,350.7 98.5,350.7 99.5,350.7 100.5,350.7 101.5,350.7 102.5,350.7 103.5,350.7 104.5,350.7 105.5,350.7 106.5,350.7 107.5,350.7 108.5,350.7 109.5,350.7 110.5,350.7 111.5,350.7 112.5,350.7 113.5,350.7 114.5,350.7 115.5,350.7 116.5,350.7 117.5,350.7 118.5,350.7 119.5,350.7 120.5,350.7 121.5,350.7 122.5,350.7 123.5,350.7 124.5,350.7 125.5,350.7 126.5,350.7 127.5,350.7 128.5,350.6 129.5,350.6 130.5,350.6 131.5,350.6 132.5,350.6 133.5,350.6 134.5,350.6 135.5,350.6 136.5,350.6 137.5,350.6 138.5,350.6 139.5,350.6 140.5,350.6 141.5,350.6 142.5,350.6 143.5,350.6 144.5,350.6 145.5,350.6 146.5,350.6 147.5,350.6 148.5,350.5 149.5,350.5 150.5,350.5 151.5,350.5 152.5,350.5 153.5,350.5 154.5,350.5 155.5,350.5 156.5,350.5 157.5,350.5 158.5,350.5 159.5,350.5 160.5,350.5 161.5,350.4 162.5,350.4 163.5,350.4 164.5,350.4 165.5,350.4 166.5,350.4 167.5,350.4 168.5,350.4 169.5,350.4 170.5,350.3 171.5,350.3 172.5,350.3 173.5,350.3 174.5,350.3 175.5,350.3 176.5,350.3 177.5,350.2 178.5,350.2 179.5,350.2 180.5,350.2 181.5,350.2 182.5,350.1 183.5,350.1 184.5,350.1 185.5,350.1 186.5,350.1 187.5,350 188.5,350 189.5,350 190.5,349.9 191.5,349.9 192.5,349.9 193.5,349.8 194.5,349.8 195.5,349.8 196.5,349.7 197.5,349.7 198.5,349.6 199.5,349.6 200.5,349.5 201.5,349.4 202.5,349.4 203.5,349.3 204.5,349.2 205.5,349.1 206.5,349 207.5,348.9 208.5,348.7 209.5,348.6 210.5,348.4 211.5,348.2 212.5,348 213.5,347.8 214.5,347.5 215.5,347.2 216.5,346.9 217.5,346.5 218.5,346.1 219.5,345.7 220.5,345.2 221.5,344.7 222.5,344.2 223.5,343.6 224.5,342.9 225.5,342.2 226.5,341.4 227.5,340.6 228.5,339.8 229.5,338.9 230.5,337.9 231.5,336.9 232.5,335.9 233.5,334.8 234.5,333.7 235.5,332.5 236.5,331.3 237.5,330.2 238.5,329 239.5,327.8 240.5,326.6 241.5,325.4 242.5,324.3 243.5,323.2 244.5,322.2 245.5,321.3 246.5,320.4 247.5,319.7 248.5,319.1 249.5,318.6 250.5,318.2 251.5,318 252.5,318 253.5,318.1 254.5,318.4 255.5,318.8 256.5,319.3 257.5,320 258.5,320.8 259.5,321.6 260.5,322.6 261.5,323.7 262.5,324.7 263.5,325.9 264.5,327.1 265.5,328.2 266.5,329.4 267.5,330.6 268.5,331.8 269.5,333 270.5,334.1 271.5,335.2 272.5,336.3 273.5,337.3 274.5,338.3 275.5,339.2 276.5,340.1 277.5,341 278.5,341.7 279.5,342.5 280.5,343.2 281.5,343.8 282.5,344.4 283.5,344.9 284.5,345.4 285.5,345.9 286.5,346.3 287.5,346.7 288.5,347 289.5,347.3 290.5,347.6 291.5,347.9 292.5,348.1 293.5,348.3 294.5,348.5 295.5,348.6 296.5,348.8 297.5,348.9 298.5,349 299.5,349.1 300.5,349.2 301.5,349.3 302.5,349.4 303.5,349.5 304.5,349.5 305.5,349.6 306.5,349.6 307.5,349.7 308.5,349.7 309.5,349.8 310.5,349.8 311.5,349.9 312.5,349.9 313.5,349.9 314.5,350 315.5,350 316.5,350 317.5,350 318.5,350.1 319.5,350.1 320.5,350.1 321.5,350.1 322.5,350.2 323.5,350.2 324.5,350.2" fill="none" stroke="#ec6a4c" stroke-width="1.7" stroke-linejoin="round"/>
</g>
<line x1="130.8" y1="133" x2="130.8" y2="158" stroke="#e8202e" stroke-opacity="0.8" stroke-width="1.6" stroke-dasharray="4.5,2.6"/>
<line x1="246.4" y1="200" x2="246.4" y2="225" stroke="#e8202e" stroke-opacity="0.8" stroke-width="1.6" stroke-dasharray="4.5,2.6"/>
<line x1="136.5" y1="239.8" x2="136.5" y2="264" stroke="#e8202e" stroke-opacity="0.8" stroke-width="1.6" stroke-dasharray="4.5,2.6"/>
<line x1="252.3" y1="307.3" x2="252.3" y2="332" stroke="#e8202e" stroke-opacity="0.8" stroke-width="1.6" stroke-dasharray="4.5,2.6"/>
<g clip-path="url(#cb)">
<path d="M369.2,127.4 370.2,127.4 371.2,127.4 372.2,127.4 373.2,127.4 374.2,127.4 375.2,127.3 376.2,127.3 377.2,127.3 378.2,127.3 379.2,127.3 380.2,127.3 381.2,127.3 382.2,127.3 383.2,127.3 384.2,127.3 385.2,127.2 386.2,127.2 387.2,127.2 388.2,127.2 389.2,127.2 390.2,127.2 391.2,127.2 392.2,127.2 393.2,127.1 394.2,127.1 395.2,127.1 396.2,127.1 397.2,127.1 398.2,127.1 399.2,127 400.2,127 401.2,127 402.2,127 403.2,127 404.2,126.9 405.2,126.9 406.2,126.9 407.2,126.9 408.2,126.9 409.2,126.8 410.2,126.8 411.2,126.8 412.2,126.8 413.2,126.7 414.2,126.7 415.2,126.7 416.2,126.6 417.2,126.6 418.2,126.6 419.2,126.5 420.2,126.5 421.2,126.5 422.2,126.4 423.2,126.4 424.2,126.3 425.2,126.3 426.2,126.2 427.2,126.2 428.2,126.1 429.2,126 430.2,126 431.2,125.9 432.2,125.8 433.2,125.7 434.2,125.6 435.2,125.5 436.2,125.4 437.2,125.2 438.2,125.1 439.2,124.9 440.2,124.7 441.2,124.5 442.2,124.2 443.2,123.9 444.2,123.6 445.2,123.2 446.2,122.8 447.2,122.3 448.2,121.8 449.2,121.2 450.2,120.5 451.2,119.8 452.2,119 453.2,118.1 454.2,117 455.2,115.9 456.2,114.7 457.2,113.3 458.2,111.8 459.2,110.2 460.2,108.4 461.2,106.5 462.2,104.5 463.2,102.2 464.2,99.9 465.2,97.4 466.2,94.7 467.2,91.9 468.2,89 469.2,85.9 470.2,82.8 471.2,79.5 472.2,76.1 473.2,72.7 474.2,69.2 475.2,65.6 476.2,62.1 477.2,58.6 478.2,55.1 479.2,51.7 480.2,48.4 481.2,45.3 482.2,42.3 483.2,39.5 484.2,36.9 485.2,34.7 486.2,32.7 487.2,31 488.2,29.7 489.2,28.8 490.2,28.2 491.2,28 492.2,28.3 493.2,28.8 494.2,29.8 495.2,31.1 496.2,32.8 497.2,34.7 498.2,36.9 499.2,39.3 500.2,42 501.2,44.8 502.2,47.8 503.2,50.8 504.2,54 505.2,57.2 506.2,60.4 507.2,63.6 508.2,66.8 509.2,69.9 510.2,73 511.2,76 512.2,78.9 513.2,81.7 514.2,84.3 515.2,86.9 516.2,89.3 517.2,91.6 518.2,93.7 519.2,95.7 520.2,97.6 521.2,99.4 522.2,101 523.2,102.5 524.2,103.9 525.2,105.2 526.2,106.4 527.2,107.6 528.2,108.6 529.2,109.5 530.2,110.4 531.2,111.2 532.2,112 533.2,112.7 534.2,113.4 535.2,114 536.2,114.6 537.2,115.2 538.2,115.7 539.2,116.3 540.2,116.8 541.2,117.3 542.2,117.7 543.2,118.2 544.2,118.7 545.2,119.1 546.2,119.6 547.2,120 548.2,120.4 549.2,120.8 550.2,121.2 551.2,121.6 552.2,122 553.2,122.3 554.2,122.6 555.2,123 556.2,123.2 557.2,123.5 558.2,123.8 559.2,124 560.2,124.2 561.2,124.4 562.2,124.6 563.2,124.7 564.2,124.9 565.2,125 566.2,125.1 567.2,125.3 568.2,125.4 569.2,125.5 570.2,125.6 571.2,125.7 572.2,125.8 573.2,125.9 574.2,125.9 575.2,126 576.2,126.1 577.2,126.2 578.2,126.3 579.2,126.3 580.2,126.4 581.2,126.5 582.2,126.5 583.2,126.6 584.2,126.7 585.2,126.7 586.2,126.8 587.2,126.8 588.2,126.9 589.2,126.9 590.2,127 591.2,127 592.2,127.1 593.2,127.1 594.2,127.1 595.2,127.2 596.2,127.2 597.2,127.2 598.2,127.3 599.2,127.3 600.2,127.3 601.2,127.3 602.2,127.4 603.2,127.4 604.2,127.4 605.2,127.4 606.2,127.4 607.2,127.4 608.2,127.5 609.2,127.5 610.2,127.5 611.2,127.5 612.2,127.5 613.2,127.5 614.2,127.5 615.2,127.5 616.2,127.6 617.2,127.6 618.2,127.6 619.2,127.6 620.2,127.6 621.2,127.6 622.2,127.6 623.2,127.6 624.2,127.6 625.2,127.6 626.2,127.7 627.2,127.7 628.2,127.7 629.2,127.7 630.2,127.7 631.2,127.7 632.2,127.7 633.2,127.7 634.2,127.7 635.2,127.8 636.2,127.8 637.2,127.8 638.2,127.8 639.2,127.8 640.2,127.8 641.2,127.8 642.2,127.8 643.2,127.8 644.2,127.8 645.2,127.8 646.2,127.9 647.2,127.9 648.2,127.9 649.2,127.9 650.2,127.9 651.2,127.9 652.2,127.9 653.2,127.9 654.2,127.9 655.2,127.9 656.2,127.9 657.2,127.9 658.2,127.9 659.2,127.9 660.2,127.9 661.2,127.9 662.2,127.9 663.2,127.9 664.2,127.9 665.2,127.9 666.2,127.9 667.2,127.9 668.2,127.9 669.2,127.9 670.2,127.9 671.2,127.9 672.2,127.9 673.2,127.9" fill="none" stroke="#111" stroke-width="1.6" stroke-linejoin="round"/>
<path d="M369.2,127.9 369.2,127.4 370.2,127.4 371.2,127.4 372.2,127.4 373.2,127.4 374.2,127.4 375.2,127.4 376.2,127.4 377.2,127.3 378.2,127.3 379.2,127.3 380.2,127.3 381.2,127.3 382.2,127.3 383.2,127.3 384.2,127.3 385.2,127.3 386.2,127.3 387.2,127.2 388.2,127.2 389.2,127.2 390.2,127.2 391.2,127.2 392.2,127.2 393.2,127.2 394.2,127.1 395.2,127.1 396.2,127.1 397.2,127.1 398.2,127.1 399.2,127.1 400.2,127 401.2,127 402.2,127 403.2,127 404.2,127 405.2,126.9 406.2,126.9 407.2,126.9 408.2,126.9 409.2,126.9 410.2,126.8 411.2,126.8 412.2,126.8 413.2,126.8 414.2,126.7 415.2,126.7 416.2,126.7 417.2,126.6 418.2,126.6 419.2,126.6 420.2,126.5 421.2,126.5 422.2,126.4 423.2,126.4 424.2,126.4 425.2,126.3 426.2,126.3 427.2,126.2 428.2,126.1 429.2,126.1 430.2,126 431.2,125.9 432.2,125.8 433.2,125.7 434.2,125.6 435.2,125.5 436.2,125.4 437.2,125.3 438.2,125.1 439.2,124.9 440.2,124.7 441.2,124.5 442.2,124.2 443.2,124 444.2,123.6 445.2,123.3 446.2,122.9 447.2,122.4 448.2,121.9 449.2,121.3 450.2,120.6 451.2,119.9 452.2,119 453.2,118.1 454.2,117.1 455.2,116 456.2,114.7 457.2,113.4 458.2,111.9 459.2,110.3 460.2,108.5 461.2,106.6 462.2,104.6 463.2,102.4 464.2,100 465.2,97.5 466.2,94.9 467.2,92.1 468.2,89.2 469.2,86.1 470.2,83 471.2,79.7 472.2,76.3 473.2,72.9 474.2,69.4 475.2,65.9 476.2,62.4 477.2,59 478.2,55.5 479.2,52.2 480.2,48.9 481.2,45.8 482.2,42.9 483.2,40.2 484.2,37.7 485.2,35.5 486.2,33.6 487.2,32 488.2,30.8 489.2,30 490.2,29.6 491.2,29.5 492.2,29.9 493.2,30.6 494.2,31.8 495.2,33.3 496.2,35.1 497.2,37.2 498.2,39.6 499.2,42.3 500.2,45.2 501.2,48.3 502.2,51.5 503.2,54.8 504.2,58.3 505.2,61.7 506.2,65.2 507.2,68.7 508.2,72.2 509.2,75.7 510.2,79 511.2,82.3 512.2,85.5 513.2,88.6 514.2,91.5 515.2,94.3 516.2,97 517.2,99.5 518.2,101.9 519.2,104.1 520.2,106.2 521.2,108.1 522.2,109.9 523.2,111.6 524.2,113.1 525.2,114.5 526.2,115.7 527.2,116.9 528.2,117.9 529.2,118.9 530.2,119.7 531.2,120.5 532.2,121.1 533.2,121.7 534.2,122.3 535.2,122.8 536.2,123.2 537.2,123.6 538.2,123.9 539.2,124.2 540.2,124.5 541.2,124.7 542.2,124.9 543.2,125.1 544.2,125.2 545.2,125.4 546.2,125.5 547.2,125.6 548.2,125.7 549.2,125.8 550.2,125.9 551.2,126 552.2,126.1 553.2,126.1 554.2,126.2 555.2,126.2 556.2,126.3 557.2,126.3 558.2,126.4 559.2,126.4 560.2,126.5 561.2,126.5 562.2,126.6 563.2,126.6 564.2,126.6 565.2,126.7 566.2,126.7 567.2,126.7 568.2,126.7 569.2,126.8 570.2,126.8 571.2,126.8 572.2,126.9 573.2,126.9 574.2,126.9 575.2,126.9 576.2,126.9 577.2,127 578.2,127 579.2,127 580.2,127 581.2,127 582.2,127.1 583.2,127.1 584.2,127.1 585.2,127.1 586.2,127.1 587.2,127.1 588.2,127.2 589.2,127.2 590.2,127.2 591.2,127.2 592.2,127.2 593.2,127.2 594.2,127.2 595.2,127.2 596.2,127.3 597.2,127.3 598.2,127.3 599.2,127.3 600.2,127.3 601.2,127.3 602.2,127.3 603.2,127.3 604.2,127.3 605.2,127.4 606.2,127.4 607.2,127.4 608.2,127.4 609.2,127.4 610.2,127.4 611.2,127.4 612.2,127.4 613.2,127.4 614.2,127.4 615.2,127.4 616.2,127.4 617.2,127.5 618.2,127.5 619.2,127.5 620.2,127.5 621.2,127.5 622.2,127.5 623.2,127.5 624.2,127.5 625.2,127.5 626.2,127.5 627.2,127.5 628.2,127.5 629.2,127.5 630.2,127.5 631.2,127.5 632.2,127.5 633.2,127.5 634.2,127.5 635.2,127.6 636.2,127.6 637.2,127.6 638.2,127.6 639.2,127.6 640.2,127.6 641.2,127.6 642.2,127.6 643.2,127.6 644.2,127.6 645.2,127.6 646.2,127.6 647.2,127.6 648.2,127.6 649.2,127.6 650.2,127.6 651.2,127.6 652.2,127.6 653.2,127.6 654.2,127.6 655.2,127.6 656.2,127.6 657.2,127.6 658.2,127.6 659.2,127.6 660.2,127.6 661.2,127.7 662.2,127.7 663.2,127.7 664.2,127.7 665.2,127.7 666.2,127.7 667.2,127.7 668.2,127.7 669.2,127.7 670.2,127.7 671.2,127.7 672.2,127.7 673.2,127.7 673.2,127.9Z" fill="#84abbe" fill-opacity="0.8" stroke="none"/>
<path d="M369.2,127.4 370.2,127.4 371.2,127.4 372.2,127.4 373.2,127.4 374.2,127.4 375.2,127.4 376.2,127.4 377.2,127.3 378.2,127.3 379.2,127.3 380.2,127.3 381.2,127.3 382.2,127.3 383.2,127.3 384.2,127.3 385.2,127.3 386.2,127.3 387.2,127.2 388.2,127.2 389.2,127.2 390.2,127.2 391.2,127.2 392.2,127.2 393.2,127.2 394.2,127.1 395.2,127.1 396.2,127.1 397.2,127.1 398.2,127.1 399.2,127.1 400.2,127 401.2,127 402.2,127 403.2,127 404.2,127 405.2,126.9 406.2,126.9 407.2,126.9 408.2,126.9 409.2,126.9 410.2,126.8 411.2,126.8 412.2,126.8 413.2,126.8 414.2,126.7 415.2,126.7 416.2,126.7 417.2,126.6 418.2,126.6 419.2,126.6 420.2,126.5 421.2,126.5 422.2,126.4 423.2,126.4 424.2,126.4 425.2,126.3 426.2,126.3 427.2,126.2 428.2,126.1 429.2,126.1 430.2,126 431.2,125.9 432.2,125.8 433.2,125.7 434.2,125.6 435.2,125.5 436.2,125.4 437.2,125.3 438.2,125.1 439.2,124.9 440.2,124.7 441.2,124.5 442.2,124.2 443.2,124 444.2,123.6 445.2,123.3 446.2,122.9 447.2,122.4 448.2,121.9 449.2,121.3 450.2,120.6 451.2,119.9 452.2,119 453.2,118.1 454.2,117.1 455.2,116 456.2,114.7 457.2,113.4 458.2,111.9 459.2,110.3 460.2,108.5 461.2,106.6 462.2,104.6 463.2,102.4 464.2,100 465.2,97.5 466.2,94.9 467.2,92.1 468.2,89.2 469.2,86.1 470.2,83 471.2,79.7 472.2,76.3 473.2,72.9 474.2,69.4 475.2,65.9 476.2,62.4 477.2,59 478.2,55.5 479.2,52.2 480.2,48.9 481.2,45.8 482.2,42.9 483.2,40.2 484.2,37.7 485.2,35.5 486.2,33.6 487.2,32 488.2,30.8 489.2,30 490.2,29.6 491.2,29.5 492.2,29.9 493.2,30.6 494.2,31.8 495.2,33.3 496.2,35.1 497.2,37.2 498.2,39.6 499.2,42.3 500.2,45.2 501.2,48.3 502.2,51.5 503.2,54.8 504.2,58.3 505.2,61.7 506.2,65.2 507.2,68.7 508.2,72.2 509.2,75.7 510.2,79 511.2,82.3 512.2,85.5 513.2,88.6 514.2,91.5 515.2,94.3 516.2,97 517.2,99.5 518.2,101.9 519.2,104.1 520.2,106.2 521.2,108.1 522.2,109.9 523.2,111.6 524.2,113.1 525.2,114.5 526.2,115.7 527.2,116.9 528.2,117.9 529.2,118.9 530.2,119.7 531.2,120.5 532.2,121.1 533.2,121.7 534.2,122.3 535.2,122.8 536.2,123.2 537.2,123.6 538.2,123.9 539.2,124.2 540.2,124.5 541.2,124.7 542.2,124.9 543.2,125.1 544.2,125.2 545.2,125.4 546.2,125.5 547.2,125.6 548.2,125.7 549.2,125.8 550.2,125.9 551.2,126 552.2,126.1 553.2,126.1 554.2,126.2 555.2,126.2 556.2,126.3 557.2,126.3 558.2,126.4 559.2,126.4 560.2,126.5 561.2,126.5 562.2,126.6 563.2,126.6 564.2,126.6 565.2,126.7 566.2,126.7 567.2,126.7 568.2,126.7 569.2,126.8 570.2,126.8 571.2,126.8 572.2,126.9 573.2,126.9 574.2,126.9 575.2,126.9 576.2,126.9 577.2,127 578.2,127 579.2,127 580.2,127 581.2,127 582.2,127.1 583.2,127.1 584.2,127.1 585.2,127.1 586.2,127.1 587.2,127.1 588.2,127.2 589.2,127.2 590.2,127.2 591.2,127.2 592.2,127.2 593.2,127.2 594.2,127.2 595.2,127.2 596.2,127.3 597.2,127.3 598.2,127.3 599.2,127.3 600.2,127.3 601.2,127.3 602.2,127.3 603.2,127.3 604.2,127.3 605.2,127.4 606.2,127.4 607.2,127.4 608.2,127.4 609.2,127.4 610.2,127.4 611.2,127.4 612.2,127.4 613.2,127.4 614.2,127.4 615.2,127.4 616.2,127.4 617.2,127.5 618.2,127.5 619.2,127.5 620.2,127.5 621.2,127.5 622.2,127.5 623.2,127.5 624.2,127.5 625.2,127.5 626.2,127.5 627.2,127.5 628.2,127.5 629.2,127.5 630.2,127.5 631.2,127.5 632.2,127.5 633.2,127.5 634.2,127.5 635.2,127.6 636.2,127.6 637.2,127.6 638.2,127.6 639.2,127.6 640.2,127.6 641.2,127.6 642.2,127.6 643.2,127.6 644.2,127.6 645.2,127.6 646.2,127.6 647.2,127.6 648.2,127.6 649.2,127.6 650.2,127.6 651.2,127.6 652.2,127.6 653.2,127.6 654.2,127.6 655.2,127.6 656.2,127.6 657.2,127.6 658.2,127.6 659.2,127.6 660.2,127.6 661.2,127.7 662.2,127.7 663.2,127.7 664.2,127.7 665.2,127.7 666.2,127.7 667.2,127.7 668.2,127.7 669.2,127.7 670.2,127.7 671.2,127.7 672.2,127.7 673.2,127.7" fill="none" stroke="#3090a6" stroke-width="1.6" stroke-linejoin="round"/>
<path d="M369.2,127.9 369.2,127.9 370.2,127.9 371.2,127.9 372.2,127.9 373.2,127.9 374.2,127.9 375.2,127.9 376.2,127.9 377.2,127.9 378.2,127.9 379.2,127.9 380.2,127.9 381.2,127.9 382.2,127.9 383.2,127.9 384.2,127.9 385.2,127.9 386.2,127.9 387.2,127.9 388.2,127.9 389.2,127.9 390.2,127.9 391.2,127.9 392.2,127.9 393.2,127.9 394.2,127.9 395.2,127.9 396.2,127.9 397.2,127.9 398.2,127.9 399.2,127.9 400.2,127.9 401.2,127.9 402.2,127.9 403.2,127.9 404.2,127.9 405.2,127.9 406.2,127.9 407.2,127.9 408.2,127.9 409.2,127.9 410.2,127.9 411.2,127.9 412.2,127.9 413.2,127.9 414.2,127.9 415.2,127.9 416.2,127.9 417.2,127.9 418.2,127.9 419.2,127.9 420.2,127.9 421.2,127.9 422.2,127.9 423.2,127.9 424.2,127.9 425.2,127.9 426.2,127.9 427.2,127.9 428.2,127.9 429.2,127.9 430.2,127.9 431.2,127.9 432.2,127.9 433.2,127.9 434.2,127.9 435.2,127.9 436.2,127.9 437.2,127.9 438.2,127.9 439.2,127.9 440.2,127.9 441.2,127.8 442.2,127.8 443.2,127.8 444.2,127.8 445.2,127.8 446.2,127.8 447.2,127.8 448.2,127.8 449.2,127.8 450.2,127.8 451.2,127.8 452.2,127.8 453.2,127.8 454.2,127.8 455.2,127.8 456.2,127.8 457.2,127.8 458.2,127.8 459.2,127.8 460.2,127.8 461.2,127.8 462.2,127.8 463.2,127.8 464.2,127.8 465.2,127.8 466.2,127.8 467.2,127.8 468.2,127.7 469.2,127.7 470.2,127.7 471.2,127.7 472.2,127.7 473.2,127.7 474.2,127.6 475.2,127.6 476.2,127.6 477.2,127.6 478.2,127.5 479.2,127.5 480.2,127.5 481.2,127.4 482.2,127.4 483.2,127.3 484.2,127.3 485.2,127.2 486.2,127.2 487.2,127.1 488.2,127 489.2,127 490.2,126.9 491.2,126.8 492.2,126.7 493.2,126.6 494.2,126.5 495.2,126.4 496.2,126.2 497.2,126.1 498.2,126 499.2,125.8 500.2,125.7 501.2,125.5 502.2,125.4 503.2,125.2 504.2,125 505.2,124.8 506.2,124.6 507.2,124.5 508.2,124.3 509.2,124.1 510.2,123.9 511.2,123.7 512.2,123.5 513.2,123.3 514.2,123.1 515.2,122.9 516.2,122.7 517.2,122.5 518.2,122.3 519.2,122.1 520.2,121.9 521.2,121.8 522.2,121.6 523.2,121.5 524.2,121.3 525.2,121.2 526.2,121.1 527.2,121 528.2,120.9 529.2,120.8 530.2,120.8 531.2,120.7 532.2,120.7 533.2,120.7 534.2,120.7 535.2,120.7 536.2,120.8 537.2,120.8 538.2,120.9 539.2,121 540.2,121.1 541.2,121.2 542.2,121.4 543.2,121.5 544.2,121.7 545.2,121.8 546.2,122 547.2,122.2 548.2,122.4 549.2,122.5 550.2,122.7 551.2,122.9 552.2,123.1 553.2,123.3 554.2,123.5 555.2,123.7 556.2,123.9 557.2,124.1 558.2,124.3 559.2,124.5 560.2,124.7 561.2,124.9 562.2,125.1 563.2,125.3 564.2,125.4 565.2,125.6 566.2,125.7 567.2,125.9 568.2,126 569.2,126.2 570.2,126.3 571.2,126.4 572.2,126.5 573.2,126.6 574.2,126.7 575.2,126.8 576.2,126.9 577.2,127 578.2,127.1 579.2,127.1 580.2,127.2 581.2,127.3 582.2,127.3 583.2,127.4 584.2,127.4 585.2,127.5 586.2,127.5 587.2,127.5 588.2,127.6 589.2,127.6 590.2,127.6 591.2,127.6 592.2,127.7 593.2,127.7 594.2,127.7 595.2,127.7 596.2,127.7 597.2,127.7 598.2,127.7 599.2,127.8 600.2,127.8 601.2,127.8 602.2,127.8 603.2,127.8 604.2,127.8 605.2,127.8 606.2,127.8 607.2,127.8 608.2,127.8 609.2,127.8 610.2,127.8 611.2,127.8 612.2,127.8 613.2,127.8 614.2,127.8 615.2,127.8 616.2,127.8 617.2,127.8 618.2,127.8 619.2,127.8 620.2,127.8 621.2,127.8 622.2,127.8 623.2,127.8 624.2,127.8 625.2,127.9 626.2,127.9 627.2,127.9 628.2,127.9 629.2,127.9 630.2,127.9 631.2,127.9 632.2,127.9 633.2,127.9 634.2,127.9 635.2,127.9 636.2,127.9 637.2,127.9 638.2,127.9 639.2,127.9 640.2,127.9 641.2,127.9 642.2,127.9 643.2,127.9 644.2,127.9 645.2,127.9 646.2,127.9 647.2,127.9 648.2,127.9 649.2,127.9 650.2,127.9 651.2,127.9 652.2,127.9 653.2,127.9 654.2,127.9 655.2,127.9 656.2,127.9 657.2,127.9 658.2,127.9 659.2,127.9 660.2,127.9 661.2,127.9 662.2,127.9 663.2,127.9 664.2,127.9 665.2,127.9 666.2,127.9 667.2,127.9 668.2,127.9 669.2,127.9 670.2,127.9 671.2,127.9 672.2,127.9 673.2,127.9 673.2,127.9Z" fill="#558bc0" fill-opacity="0.7" stroke="none"/>
<path d="M369.2,127.9 370.2,127.9 371.2,127.9 372.2,127.9 373.2,127.9 374.2,127.9 375.2,127.9 376.2,127.9 377.2,127.9 378.2,127.9 379.2,127.9 380.2,127.9 381.2,127.9 382.2,127.9 383.2,127.9 384.2,127.9 385.2,127.9 386.2,127.9 387.2,127.9 388.2,127.9 389.2,127.9 390.2,127.9 391.2,127.9 392.2,127.9 393.2,127.9 394.2,127.9 395.2,127.9 396.2,127.9 397.2,127.9 398.2,127.9 399.2,127.9 400.2,127.9 401.2,127.9 402.2,127.9 403.2,127.9 404.2,127.9 405.2,127.9 406.2,127.9 407.2,127.9 408.2,127.9 409.2,127.9 410.2,127.9 411.2,127.9 412.2,127.9 413.2,127.9 414.2,127.9 415.2,127.9 416.2,127.9 417.2,127.9 418.2,127.9 419.2,127.9 420.2,127.9 421.2,127.9 422.2,127.9 423.2,127.9 424.2,127.9 425.2,127.9 426.2,127.9 427.2,127.9 428.2,127.9 429.2,127.9 430.2,127.9 431.2,127.9 432.2,127.9 433.2,127.9 434.2,127.9 435.2,127.9 436.2,127.9 437.2,127.9 438.2,127.9 439.2,127.9 440.2,127.9 441.2,127.8 442.2,127.8 443.2,127.8 444.2,127.8 445.2,127.8 446.2,127.8 447.2,127.8 448.2,127.8 449.2,127.8 450.2,127.8 451.2,127.8 452.2,127.8 453.2,127.8 454.2,127.8 455.2,127.8 456.2,127.8 457.2,127.8 458.2,127.8 459.2,127.8 460.2,127.8 461.2,127.8 462.2,127.8 463.2,127.8 464.2,127.8 465.2,127.8 466.2,127.8 467.2,127.8 468.2,127.7 469.2,127.7 470.2,127.7 471.2,127.7 472.2,127.7 473.2,127.7 474.2,127.6 475.2,127.6 476.2,127.6 477.2,127.6 478.2,127.5 479.2,127.5 480.2,127.5 481.2,127.4 482.2,127.4 483.2,127.3 484.2,127.3 485.2,127.2 486.2,127.2 487.2,127.1 488.2,127 489.2,127 490.2,126.9 491.2,126.8 492.2,126.7 493.2,126.6 494.2,126.5 495.2,126.4 496.2,126.2 497.2,126.1 498.2,126 499.2,125.8 500.2,125.7 501.2,125.5 502.2,125.4 503.2,125.2 504.2,125 505.2,124.8 506.2,124.6 507.2,124.5 508.2,124.3 509.2,124.1 510.2,123.9 511.2,123.7 512.2,123.5 513.2,123.3 514.2,123.1 515.2,122.9 516.2,122.7 517.2,122.5 518.2,122.3 519.2,122.1 520.2,121.9 521.2,121.8 522.2,121.6 523.2,121.5 524.2,121.3 525.2,121.2 526.2,121.1 527.2,121 528.2,120.9 529.2,120.8 530.2,120.8 531.2,120.7 532.2,120.7 533.2,120.7 534.2,120.7 535.2,120.7 536.2,120.8 537.2,120.8 538.2,120.9 539.2,121 540.2,121.1 541.2,121.2 542.2,121.4 543.2,121.5 544.2,121.7 545.2,121.8 546.2,122 547.2,122.2 548.2,122.4 549.2,122.5 550.2,122.7 551.2,122.9 552.2,123.1 553.2,123.3 554.2,123.5 555.2,123.7 556.2,123.9 557.2,124.1 558.2,124.3 559.2,124.5 560.2,124.7 561.2,124.9 562.2,125.1 563.2,125.3 564.2,125.4 565.2,125.6 566.2,125.7 567.2,125.9 568.2,126 569.2,126.2 570.2,126.3 571.2,126.4 572.2,126.5 573.2,126.6 574.2,126.7 575.2,126.8 576.2,126.9 577.2,127 578.2,127.1 579.2,127.1 580.2,127.2 581.2,127.3 582.2,127.3 583.2,127.4 584.2,127.4 585.2,127.5 586.2,127.5 587.2,127.5 588.2,127.6 589.2,127.6 590.2,127.6 591.2,127.6 592.2,127.7 593.2,127.7 594.2,127.7 595.2,127.7 596.2,127.7 597.2,127.7 598.2,127.7 599.2,127.8 600.2,127.8 601.2,127.8 602.2,127.8 603.2,127.8 604.2,127.8 605.2,127.8 606.2,127.8 607.2,127.8 608.2,127.8 609.2,127.8 610.2,127.8 611.2,127.8 612.2,127.8 613.2,127.8 614.2,127.8 615.2,127.8 616.2,127.8 617.2,127.8 618.2,127.8 619.2,127.8 620.2,127.8 621.2,127.8 622.2,127.8 623.2,127.8 624.2,127.8 625.2,127.9 626.2,127.9 627.2,127.9 628.2,127.9 629.2,127.9 630.2,127.9 631.2,127.9 632.2,127.9 633.2,127.9 634.2,127.9 635.2,127.9 636.2,127.9 637.2,127.9 638.2,127.9 639.2,127.9 640.2,127.9 641.2,127.9 642.2,127.9 643.2,127.9 644.2,127.9 645.2,127.9 646.2,127.9 647.2,127.9 648.2,127.9 649.2,127.9 650.2,127.9 651.2,127.9 652.2,127.9 653.2,127.9 654.2,127.9 655.2,127.9 656.2,127.9 657.2,127.9 658.2,127.9 659.2,127.9 660.2,127.9 661.2,127.9 662.2,127.9 663.2,127.9 664.2,127.9 665.2,127.9 666.2,127.9 667.2,127.9 668.2,127.9 669.2,127.9 670.2,127.9 671.2,127.9 672.2,127.9 673.2,127.9" fill="none" stroke="#6a9fcc" stroke-width="0.6" stroke-linejoin="round"/>
<path d="M369.2,237.5 370.2,237.5 371.2,237.5 372.2,237.5 373.2,237.5 374.2,237.5 375.2,237.5 376.2,237.4 377.2,237.4 378.2,237.4 379.2,237.4 380.2,237.4 381.2,237.4 382.2,237.4 383.2,237.3 384.2,237.3 385.2,237.3 386.2,237.3 387.2,237.3 388.2,237.3 389.2,237.2 390.2,237.2 391.2,237.2 392.2,237.2 393.2,237.2 394.2,237.2 395.2,237.1 396.2,237.1 397.2,237.1 398.2,237.1 399.2,237 400.2,237 401.2,237 402.2,237 403.2,237 404.2,236.9 405.2,236.9 406.2,236.9 407.2,236.8 408.2,236.8 409.2,236.8 410.2,236.7 411.2,236.7 412.2,236.7 413.2,236.6 414.2,236.6 415.2,236.6 416.2,236.5 417.2,236.5 418.2,236.4 419.2,236.4 420.2,236.3 421.2,236.3 422.2,236.3 423.2,236.2 424.2,236.1 425.2,236.1 426.2,236 427.2,236 428.2,235.9 429.2,235.8 430.2,235.8 431.2,235.7 432.2,235.6 433.2,235.5 434.2,235.5 435.2,235.4 436.2,235.3 437.2,235.2 438.2,235.1 439.2,234.9 440.2,234.8 441.2,234.7 442.2,234.6 443.2,234.4 444.2,234.3 445.2,234.1 446.2,233.9 447.2,233.7 448.2,233.4 449.2,233.2 450.2,232.9 451.2,232.6 452.2,232.2 453.2,231.8 454.2,231.3 455.2,230.8 456.2,230.2 457.2,229.5 458.2,228.8 459.2,227.9 460.2,226.9 461.2,225.8 462.2,224.6 463.2,223.2 464.2,221.7 465.2,220 466.2,218.1 467.2,216 468.2,213.7 469.2,211.2 470.2,208.5 471.2,205.6 472.2,202.5 473.2,199.2 474.2,195.7 475.2,192 476.2,188.1 477.2,184.1 478.2,180 479.2,175.8 480.2,171.6 481.2,167.4 482.2,163.2 483.2,159.2 484.2,155.3 485.2,151.6 486.2,148.3 487.2,145.4 488.2,142.9 489.2,141 490.2,139.6 491.2,138.8 492.2,138.6 493.2,139.1 494.2,140.2 495.2,141.8 496.2,144 497.2,146.5 498.2,149.5 499.2,152.7 500.2,156.1 501.2,159.7 502.2,163.2 503.2,166.8 504.2,170.3 505.2,173.7 506.2,177 507.2,180.1 508.2,183.2 509.2,186.1 510.2,188.9 511.2,191.6 512.2,194.3 513.2,196.8 514.2,199.1 515.2,201.3 516.2,203.4 517.2,205.2 518.2,206.8 519.2,208.2 520.2,209.4 521.2,210.4 522.2,211.3 523.2,212 524.2,212.7 525.2,213.3 526.2,213.8 527.2,214.3 528.2,214.8 529.2,215.3 530.2,215.8 531.2,216.3 532.2,216.8 533.2,217.3 534.2,217.8 535.2,218.3 536.2,218.8 537.2,219.4 538.2,219.9 539.2,220.4 540.2,220.9 541.2,221.4 542.2,221.9 543.2,222.3 544.2,222.8 545.2,223.1 546.2,223.5 547.2,223.8 548.2,224.1 549.2,224.3 550.2,224.4 551.2,224.6 552.2,224.6 553.2,224.7 554.2,224.7 555.2,224.6 556.2,224.5 557.2,224.4 558.2,224.2 559.2,224 560.2,223.8 561.2,223.5 562.2,223.2 563.2,222.9 564.2,222.6 565.2,222.2 566.2,221.8 567.2,221.4 568.2,220.9 569.2,220.5 570.2,219.9 571.2,219.4 572.2,218.8 573.2,218.2 574.2,217.6 575.2,216.9 576.2,216.3 577.2,215.7 578.2,215.1 579.2,214.6 580.2,214.1 581.2,213.7 582.2,213.4 583.2,213.1 584.2,213 585.2,213 586.2,213.1 587.2,213.4 588.2,213.8 589.2,214.3 590.2,214.9 591.2,215.6 592.2,216.5 593.2,217.4 594.2,218.3 595.2,219.3 596.2,220.4 597.2,221.4 598.2,222.5 599.2,223.6 600.2,224.6 601.2,225.6 602.2,226.6 603.2,227.6 604.2,228.5 605.2,229.3 606.2,230.1 607.2,230.9 608.2,231.6 609.2,232.2 610.2,232.8 611.2,233.3 612.2,233.8 613.2,234.3 614.2,234.7 615.2,235 616.2,235.3 617.2,235.6 618.2,235.8 619.2,236 620.2,236.2 621.2,236.4 622.2,236.5 623.2,236.6 624.2,236.7 625.2,236.8 626.2,236.9 627.2,237 628.2,237 629.2,237.1 630.2,237.1 631.2,237.2 632.2,237.2 633.2,237.2 634.2,237.3 635.2,237.3 636.2,237.3 637.2,237.3 638.2,237.3 639.2,237.4 640.2,237.4 641.2,237.4 642.2,237.4 643.2,237.4 644.2,237.4 645.2,237.4 646.2,237.5 647.2,237.5 648.2,237.5 649.2,237.5 650.2,237.5 651.2,237.5 652.2,237.5 653.2,237.5 654.2,237.5 655.2,237.5" fill="none" stroke="#111" stroke-width="2.0" stroke-linejoin="round"/>
<path d="M369.2,238.2 369.2,237.6 370.2,237.6 371.2,237.6 372.2,237.6 373.2,237.6 374.2,237.6 375.2,237.6 376.2,237.5 377.2,237.5 378.2,237.5 379.2,237.5 380.2,237.5 381.2,237.5 382.2,237.5 383.2,237.5 384.2,237.4 385.2,237.4 386.2,237.4 387.2,237.4 388.2,237.4 389.2,237.4 390.2,237.4 391.2,237.3 392.2,237.3 393.2,237.3 394.2,237.3 395.2,237.3 396.2,237.3 397.2,237.2 398.2,237.2 399.2,237.2 400.2,237.2 401.2,237.1 402.2,237.1 403.2,237.1 404.2,237.1 405.2,237.1 406.2,237 407.2,237 408.2,237 409.2,236.9 410.2,236.9 411.2,236.9 412.2,236.8 413.2,236.8 414.2,236.8 415.2,236.7 416.2,236.7 417.2,236.7 418.2,236.6 419.2,236.6 420.2,236.5 421.2,236.5 422.2,236.5 423.2,236.4 424.2,236.4 425.2,236.3 426.2,236.2 427.2,236.2 428.2,236.1 429.2,236.1 430.2,236 431.2,235.9 432.2,235.9 433.2,235.8 434.2,235.7 435.2,235.6 436.2,235.5 437.2,235.4 438.2,235.3 439.2,235.2 440.2,235.1 441.2,235 442.2,234.8 443.2,234.7 444.2,234.5 445.2,234.4 446.2,234.2 447.2,234 448.2,233.8 449.2,233.5 450.2,233.2 451.2,232.9 452.2,232.5 453.2,232.1 454.2,231.7 455.2,231.2 456.2,230.6 457.2,229.9 458.2,229.2 459.2,228.3 460.2,227.3 461.2,226.3 462.2,225 463.2,223.7 464.2,222.1 465.2,220.4 466.2,218.6 467.2,216.5 468.2,214.2 469.2,211.7 470.2,209.1 471.2,206.2 472.2,203.1 473.2,199.8 474.2,196.3 475.2,192.6 476.2,188.8 477.2,184.8 478.2,180.7 479.2,176.5 480.2,172.3 481.2,168.1 482.2,164 483.2,160 484.2,156.2 485.2,152.6 486.2,149.3 487.2,146.4 488.2,144 489.2,142.2 490.2,140.9 491.2,140.2 492.2,140.2 493.2,140.8 494.2,142 495.2,143.8 496.2,146.2 497.2,149 498.2,152.2 499.2,155.8 500.2,159.6 501.2,163.6 502.2,167.7 503.2,171.9 504.2,176.1 505.2,180.3 506.2,184.4 507.2,188.4 508.2,192.2 509.2,195.9 510.2,199.4 511.2,202.7 512.2,205.9 513.2,208.8 514.2,211.5 515.2,214 516.2,216.3 517.2,218.4 518.2,220.3 519.2,222 520.2,223.5 521.2,224.9 522.2,226.1 523.2,227.2 524.2,228.2 525.2,229.1 526.2,229.8 527.2,230.5 528.2,231.1 529.2,231.6 530.2,232.1 531.2,232.5 532.2,232.9 533.2,233.2 534.2,233.5 535.2,233.7 536.2,234 537.2,234.2 538.2,234.4 539.2,234.5 540.2,234.7 541.2,234.8 542.2,235 543.2,235.1 544.2,235.2 545.2,235.3 546.2,235.4 547.2,235.5 548.2,235.6 549.2,235.7 550.2,235.8 551.2,235.8 552.2,235.9 553.2,236 554.2,236.1 555.2,236.1 556.2,236.2 557.2,236.2 558.2,236.3 559.2,236.3 560.2,236.4 561.2,236.4 562.2,236.5 563.2,236.5 564.2,236.6 565.2,236.6 566.2,236.7 567.2,236.7 568.2,236.7 569.2,236.8 570.2,236.8 571.2,236.8 572.2,236.9 573.2,236.9 574.2,236.9 575.2,237 576.2,237 577.2,237 578.2,237 579.2,237.1 580.2,237.1 581.2,237.1 582.2,237.1 583.2,237.2 584.2,237.2 585.2,237.2 586.2,237.2 587.2,237.2 588.2,237.3 589.2,237.3 590.2,237.3 591.2,237.3 592.2,237.3 593.2,237.4 594.2,237.4 595.2,237.4 596.2,237.4 597.2,237.4 598.2,237.4 599.2,237.4 600.2,237.5 601.2,237.5 602.2,237.5 603.2,237.5 604.2,237.5 605.2,237.5 606.2,237.5 607.2,237.5 608.2,237.6 609.2,237.6 610.2,237.6 611.2,237.6 612.2,237.6 613.2,237.6 614.2,237.6 615.2,237.6 616.2,237.6 617.2,237.6 618.2,237.7 619.2,237.7 620.2,237.7 621.2,237.7 622.2,237.7 623.2,237.7 624.2,237.7 625.2,237.7 626.2,237.7 627.2,237.7 628.2,237.7 629.2,237.7 630.2,237.7 631.2,237.7 632.2,237.8 633.2,237.8 634.2,237.8 635.2,237.8 636.2,237.8 637.2,237.8 638.2,237.8 639.2,237.8 640.2,237.8 641.2,237.8 642.2,237.8 643.2,237.8 644.2,237.8 645.2,237.8 646.2,237.8 647.2,237.8 648.2,237.8 649.2,237.8 650.2,237.8 651.2,237.9 652.2,237.9 653.2,237.9 654.2,237.9 655.2,237.9 655.2,238.2Z" fill="#84abbe" fill-opacity="0.8" stroke="none"/>
<path d="M369.2,237.6 370.2,237.6 371.2,237.6 372.2,237.6 373.2,237.6 374.2,237.6 375.2,237.6 376.2,237.5 377.2,237.5 378.2,237.5 379.2,237.5 380.2,237.5 381.2,237.5 382.2,237.5 383.2,237.5 384.2,237.4 385.2,237.4 386.2,237.4 387.2,237.4 388.2,237.4 389.2,237.4 390.2,237.4 391.2,237.3 392.2,237.3 393.2,237.3 394.2,237.3 395.2,237.3 396.2,237.3 397.2,237.2 398.2,237.2 399.2,237.2 400.2,237.2 401.2,237.1 402.2,237.1 403.2,237.1 404.2,237.1 405.2,237.1 406.2,237 407.2,237 408.2,237 409.2,236.9 410.2,236.9 411.2,236.9 412.2,236.8 413.2,236.8 414.2,236.8 415.2,236.7 416.2,236.7 417.2,236.7 418.2,236.6 419.2,236.6 420.2,236.5 421.2,236.5 422.2,236.5 423.2,236.4 424.2,236.4 425.2,236.3 426.2,236.2 427.2,236.2 428.2,236.1 429.2,236.1 430.2,236 431.2,235.9 432.2,235.9 433.2,235.8 434.2,235.7 435.2,235.6 436.2,235.5 437.2,235.4 438.2,235.3 439.2,235.2 440.2,235.1 441.2,235 442.2,234.8 443.2,234.7 444.2,234.5 445.2,234.4 446.2,234.2 447.2,234 448.2,233.8 449.2,233.5 450.2,233.2 451.2,232.9 452.2,232.5 453.2,232.1 454.2,231.7 455.2,231.2 456.2,230.6 457.2,229.9 458.2,229.2 459.2,228.3 460.2,227.3 461.2,226.3 462.2,225 463.2,223.7 464.2,222.1 465.2,220.4 466.2,218.6 467.2,216.5 468.2,214.2 469.2,211.7 470.2,209.1 471.2,206.2 472.2,203.1 473.2,199.8 474.2,196.3 475.2,192.6 476.2,188.8 477.2,184.8 478.2,180.7 479.2,176.5 480.2,172.3 481.2,168.1 482.2,164 483.2,160 484.2,156.2 485.2,152.6 486.2,149.3 487.2,146.4 488.2,144 489.2,142.2 490.2,140.9 491.2,140.2 492.2,140.2 493.2,140.8 494.2,142 495.2,143.8 496.2,146.2 497.2,149 498.2,152.2 499.2,155.8 500.2,159.6 501.2,163.6 502.2,167.7 503.2,171.9 504.2,176.1 505.2,180.3 506.2,184.4 507.2,188.4 508.2,192.2 509.2,195.9 510.2,199.4 511.2,202.7 512.2,205.9 513.2,208.8 514.2,211.5 515.2,214 516.2,216.3 517.2,218.4 518.2,220.3 519.2,222 520.2,223.5 521.2,224.9 522.2,226.1 523.2,227.2 524.2,228.2 525.2,229.1 526.2,229.8 527.2,230.5 528.2,231.1 529.2,231.6 530.2,232.1 531.2,232.5 532.2,232.9 533.2,233.2 534.2,233.5 535.2,233.7 536.2,234 537.2,234.2 538.2,234.4 539.2,234.5 540.2,234.7 541.2,234.8 542.2,235 543.2,235.1 544.2,235.2 545.2,235.3 546.2,235.4 547.2,235.5 548.2,235.6 549.2,235.7 550.2,235.8 551.2,235.8 552.2,235.9 553.2,236 554.2,236.1 555.2,236.1 556.2,236.2 557.2,236.2 558.2,236.3 559.2,236.3 560.2,236.4 561.2,236.4 562.2,236.5 563.2,236.5 564.2,236.6 565.2,236.6 566.2,236.7 567.2,236.7 568.2,236.7 569.2,236.8 570.2,236.8 571.2,236.8 572.2,236.9 573.2,236.9 574.2,236.9 575.2,237 576.2,237 577.2,237 578.2,237 579.2,237.1 580.2,237.1 581.2,237.1 582.2,237.1 583.2,237.2 584.2,237.2 585.2,237.2 586.2,237.2 587.2,237.2 588.2,237.3 589.2,237.3 590.2,237.3 591.2,237.3 592.2,237.3 593.2,237.4 594.2,237.4 595.2,237.4 596.2,237.4 597.2,237.4 598.2,237.4 599.2,237.4 600.2,237.5 601.2,237.5 602.2,237.5 603.2,237.5 604.2,237.5 605.2,237.5 606.2,237.5 607.2,237.5 608.2,237.6 609.2,237.6 610.2,237.6 611.2,237.6 612.2,237.6 613.2,237.6 614.2,237.6 615.2,237.6 616.2,237.6 617.2,237.6 618.2,237.7 619.2,237.7 620.2,237.7 621.2,237.7 622.2,237.7 623.2,237.7 624.2,237.7 625.2,237.7 626.2,237.7 627.2,237.7 628.2,237.7 629.2,237.7 630.2,237.7 631.2,237.7 632.2,237.8 633.2,237.8 634.2,237.8 635.2,237.8 636.2,237.8 637.2,237.8 638.2,237.8 639.2,237.8 640.2,237.8 641.2,237.8 642.2,237.8 643.2,237.8 644.2,237.8 645.2,237.8 646.2,237.8 647.2,237.8 648.2,237.8 649.2,237.8 650.2,237.8 651.2,237.9 652.2,237.9 653.2,237.9 654.2,237.9 655.2,237.9" fill="none" stroke="#3090a6" stroke-width="1.9" stroke-linejoin="round"/>
<path d="M369.2,239.6 369.2,239.5 370.2,239.5 371.2,239.5 372.2,239.5 373.2,239.5 374.2,239.5 375.2,239.5 376.2,239.5 377.2,239.5 378.2,239.5 379.2,239.5 380.2,239.5 381.2,239.5 382.2,239.5 383.2,239.5 384.2,239.5 385.2,239.5 386.2,239.5 387.2,239.5 388.2,239.5 389.2,239.5 390.2,239.5 391.2,239.5 392.2,239.5 393.2,239.5 394.2,239.5 395.2,239.5 396.2,239.5 397.2,239.5 398.2,239.5 399.2,239.5 400.2,239.5 401.2,239.5 402.2,239.5 403.2,239.5 404.2,239.5 405.2,239.5 406.2,239.5 407.2,239.5 408.2,239.5 409.2,239.5 410.2,239.5 411.2,239.5 412.2,239.5 413.2,239.5 414.2,239.5 415.2,239.5 416.2,239.5 417.2,239.5 418.2,239.5 419.2,239.5 420.2,239.5 421.2,239.5 422.2,239.5 423.2,239.5 424.2,239.5 425.2,239.5 426.2,239.5 427.2,239.5 428.2,239.5 429.2,239.5 430.2,239.5 431.2,239.5 432.2,239.5 433.2,239.5 434.2,239.5 435.2,239.5 436.2,239.4 437.2,239.4 438.2,239.4 439.2,239.4 440.2,239.4 441.2,239.4 442.2,239.4 443.2,239.4 444.2,239.4 445.2,239.4 446.2,239.4 447.2,239.4 448.2,239.4 449.2,239.4 450.2,239.4 451.2,239.4 452.2,239.4 453.2,239.4 454.2,239.4 455.2,239.4 456.2,239.4 457.2,239.3 458.2,239.3 459.2,239.3 460.2,239.3 461.2,239.3 462.2,239.3 463.2,239.3 464.2,239.3 465.2,239.3 466.2,239.3 467.2,239.3 468.2,239.2 469.2,239.2 470.2,239.2 471.2,239.2 472.2,239.2 473.2,239.2 474.2,239.1 475.2,239.1 476.2,239.1 477.2,239.1 478.2,239 479.2,239 480.2,239 481.2,238.9 482.2,238.9 483.2,238.8 484.2,238.8 485.2,238.7 486.2,238.6 487.2,238.5 488.2,238.4 489.2,238.3 490.2,238.2 491.2,238.1 492.2,237.9 493.2,237.8 494.2,237.6 495.2,237.4 496.2,237.2 497.2,236.9 498.2,236.7 499.2,236.4 500.2,236.1 501.2,235.8 502.2,235.4 503.2,235 504.2,234.7 505.2,234.2 506.2,233.8 507.2,233.4 508.2,232.9 509.2,232.4 510.2,231.9 511.2,231.5 512.2,231 513.2,230.5 514.2,230 515.2,229.5 516.2,229 517.2,228.6 518.2,228.2 519.2,227.8 520.2,227.4 521.2,227.1 522.2,226.9 523.2,226.6 524.2,226.5 525.2,226.4 526.2,226.4 527.2,226.4 528.2,226.6 529.2,226.7 530.2,226.9 531.2,227.2 532.2,227.5 533.2,227.9 534.2,228.3 535.2,228.8 536.2,229.2 537.2,229.7 538.2,230.2 539.2,230.7 540.2,231.2 541.2,231.7 542.2,232.1 543.2,232.6 544.2,233.1 545.2,233.5 546.2,234 547.2,234.4 548.2,234.8 549.2,235.2 550.2,235.5 551.2,235.9 552.2,236.2 553.2,236.5 554.2,236.8 555.2,237 556.2,237.2 557.2,237.5 558.2,237.7 559.2,237.8 560.2,238 561.2,238.1 562.2,238.3 563.2,238.4 564.2,238.5 565.2,238.6 566.2,238.6 567.2,238.7 568.2,238.8 569.2,238.8 570.2,238.9 571.2,238.9 572.2,239 573.2,239 574.2,239.1 575.2,239.1 576.2,239.1 577.2,239.1 578.2,239.2 579.2,239.2 580.2,239.2 581.2,239.2 582.2,239.2 583.2,239.2 584.2,239.2 585.2,239.3 586.2,239.3 587.2,239.3 588.2,239.3 589.2,239.3 590.2,239.3 591.2,239.3 592.2,239.3 593.2,239.3 594.2,239.3 595.2,239.3 596.2,239.4 597.2,239.4 598.2,239.4 599.2,239.4 600.2,239.4 601.2,239.4 602.2,239.4 603.2,239.4 604.2,239.4 605.2,239.4 606.2,239.4 607.2,239.4 608.2,239.4 609.2,239.4 610.2,239.4 611.2,239.4 612.2,239.4 613.2,239.4 614.2,239.4 615.2,239.4 616.2,239.4 617.2,239.5 618.2,239.5 619.2,239.5 620.2,239.5 621.2,239.5 622.2,239.5 623.2,239.5 624.2,239.5 625.2,239.5 626.2,239.5 627.2,239.5 628.2,239.5 629.2,239.5 630.2,239.5 631.2,239.5 632.2,239.5 633.2,239.5 634.2,239.5 635.2,239.5 636.2,239.5 637.2,239.5 638.2,239.5 639.2,239.5 640.2,239.5 641.2,239.5 642.2,239.5 643.2,239.5 644.2,239.5 645.2,239.5 646.2,239.5 647.2,239.5 648.2,239.5 649.2,239.5 650.2,239.5 651.2,239.5 652.2,239.5 653.2,239.5 654.2,239.5 655.2,239.5 655.2,239.6Z" fill="#7ba3d0" fill-opacity="0.6" stroke="none"/>
<path d="M369.2,239.5 370.2,239.5 371.2,239.5 372.2,239.5 373.2,239.5 374.2,239.5 375.2,239.5 376.2,239.5 377.2,239.5 378.2,239.5 379.2,239.5 380.2,239.5 381.2,239.5 382.2,239.5 383.2,239.5 384.2,239.5 385.2,239.5 386.2,239.5 387.2,239.5 388.2,239.5 389.2,239.5 390.2,239.5 391.2,239.5 392.2,239.5 393.2,239.5 394.2,239.5 395.2,239.5 396.2,239.5 397.2,239.5 398.2,239.5 399.2,239.5 400.2,239.5 401.2,239.5 402.2,239.5 403.2,239.5 404.2,239.5 405.2,239.5 406.2,239.5 407.2,239.5 408.2,239.5 409.2,239.5 410.2,239.5 411.2,239.5 412.2,239.5 413.2,239.5 414.2,239.5 415.2,239.5 416.2,239.5 417.2,239.5 418.2,239.5 419.2,239.5 420.2,239.5 421.2,239.5 422.2,239.5 423.2,239.5 424.2,239.5 425.2,239.5 426.2,239.5 427.2,239.5 428.2,239.5 429.2,239.5 430.2,239.5 431.2,239.5 432.2,239.5 433.2,239.5 434.2,239.5 435.2,239.5 436.2,239.4 437.2,239.4 438.2,239.4 439.2,239.4 440.2,239.4 441.2,239.4 442.2,239.4 443.2,239.4 444.2,239.4 445.2,239.4 446.2,239.4 447.2,239.4 448.2,239.4 449.2,239.4 450.2,239.4 451.2,239.4 452.2,239.4 453.2,239.4 454.2,239.4 455.2,239.4 456.2,239.4 457.2,239.3 458.2,239.3 459.2,239.3 460.2,239.3 461.2,239.3 462.2,239.3 463.2,239.3 464.2,239.3 465.2,239.3 466.2,239.3 467.2,239.3 468.2,239.2 469.2,239.2 470.2,239.2 471.2,239.2 472.2,239.2 473.2,239.2 474.2,239.1 475.2,239.1 476.2,239.1 477.2,239.1 478.2,239 479.2,239 480.2,239 481.2,238.9 482.2,238.9 483.2,238.8 484.2,238.8 485.2,238.7 486.2,238.6 487.2,238.5 488.2,238.4 489.2,238.3 490.2,238.2 491.2,238.1 492.2,237.9 493.2,237.8 494.2,237.6 495.2,237.4 496.2,237.2 497.2,236.9 498.2,236.7 499.2,236.4 500.2,236.1 501.2,235.8 502.2,235.4 503.2,235 504.2,234.7 505.2,234.2 506.2,233.8 507.2,233.4 508.2,232.9 509.2,232.4 510.2,231.9 511.2,231.5 512.2,231 513.2,230.5 514.2,230 515.2,229.5 516.2,229 517.2,228.6 518.2,228.2 519.2,227.8 520.2,227.4 521.2,227.1 522.2,226.9 523.2,226.6 524.2,226.5 525.2,226.4 526.2,226.4 527.2,226.4 528.2,226.6 529.2,226.7 530.2,226.9 531.2,227.2 532.2,227.5 533.2,227.9 534.2,228.3 535.2,228.8 536.2,229.2 537.2,229.7 538.2,230.2 539.2,230.7 540.2,231.2 541.2,231.7 542.2,232.1 543.2,232.6 544.2,233.1 545.2,233.5 546.2,234 547.2,234.4 548.2,234.8 549.2,235.2 550.2,235.5 551.2,235.9 552.2,236.2 553.2,236.5 554.2,236.8 555.2,237 556.2,237.2 557.2,237.5 558.2,237.7 559.2,237.8 560.2,238 561.2,238.1 562.2,238.3 563.2,238.4 564.2,238.5 565.2,238.6 566.2,238.6 567.2,238.7 568.2,238.8 569.2,238.8 570.2,238.9 571.2,238.9 572.2,239 573.2,239 574.2,239.1 575.2,239.1 576.2,239.1 577.2,239.1 578.2,239.2 579.2,239.2 580.2,239.2 581.2,239.2 582.2,239.2 583.2,239.2 584.2,239.2 585.2,239.3 586.2,239.3 587.2,239.3 588.2,239.3 589.2,239.3 590.2,239.3 591.2,239.3 592.2,239.3 593.2,239.3 594.2,239.3 595.2,239.3 596.2,239.4 597.2,239.4 598.2,239.4 599.2,239.4 600.2,239.4 601.2,239.4 602.2,239.4 603.2,239.4 604.2,239.4 605.2,239.4 606.2,239.4 607.2,239.4 608.2,239.4 609.2,239.4 610.2,239.4 611.2,239.4 612.2,239.4 613.2,239.4 614.2,239.4 615.2,239.4 616.2,239.4 617.2,239.5 618.2,239.5 619.2,239.5 620.2,239.5 621.2,239.5 622.2,239.5 623.2,239.5 624.2,239.5 625.2,239.5 626.2,239.5 627.2,239.5 628.2,239.5 629.2,239.5 630.2,239.5 631.2,239.5 632.2,239.5 633.2,239.5 634.2,239.5 635.2,239.5 636.2,239.5 637.2,239.5 638.2,239.5 639.2,239.5 640.2,239.5 641.2,239.5 642.2,239.5 643.2,239.5 644.2,239.5 645.2,239.5 646.2,239.5 647.2,239.5 648.2,239.5 649.2,239.5 650.2,239.5 651.2,239.5 652.2,239.5 653.2,239.5 654.2,239.5 655.2,239.5" fill="none" stroke="#6aa3cc" stroke-width="1.9" stroke-linejoin="round"/>
<path d="M369.2,239.6 369.2,239.6 370.2,239.6 371.2,239.6 372.2,239.6 373.2,239.6 374.2,239.6 375.2,239.6 376.2,239.6 377.2,239.6 378.2,239.6 379.2,239.6 380.2,239.6 381.2,239.6 382.2,239.6 383.2,239.6 384.2,239.6 385.2,239.6 386.2,239.6 387.2,239.6 388.2,239.6 389.2,239.6 390.2,239.6 391.2,239.6 392.2,239.6 393.2,239.6 394.2,239.6 395.2,239.6 396.2,239.6 397.2,239.6 398.2,239.6 399.2,239.6 400.2,239.6 401.2,239.6 402.2,239.6 403.2,239.6 404.2,239.6 405.2,239.6 406.2,239.6 407.2,239.6 408.2,239.6 409.2,239.6 410.2,239.6 411.2,239.6 412.2,239.6 413.2,239.6 414.2,239.6 415.2,239.6 416.2,239.6 417.2,239.6 418.2,239.6 419.2,239.6 420.2,239.6 421.2,239.6 422.2,239.6 423.2,239.6 424.2,239.6 425.2,239.6 426.2,239.6 427.2,239.6 428.2,239.6 429.2,239.6 430.2,239.6 431.2,239.6 432.2,239.6 433.2,239.6 434.2,239.6 435.2,239.6 436.2,239.6 437.2,239.6 438.2,239.6 439.2,239.6 440.2,239.6 441.2,239.6 442.2,239.6 443.2,239.6 444.2,239.6 445.2,239.6 446.2,239.6 447.2,239.6 448.2,239.6 449.2,239.6 450.2,239.6 451.2,239.6 452.2,239.6 453.2,239.6 454.2,239.5 455.2,239.5 456.2,239.5 457.2,239.5 458.2,239.5 459.2,239.5 460.2,239.5 461.2,239.5 462.2,239.5 463.2,239.5 464.2,239.5 465.2,239.5 466.2,239.5 467.2,239.5 468.2,239.5 469.2,239.5 470.2,239.5 471.2,239.5 472.2,239.5 473.2,239.5 474.2,239.5 475.2,239.5 476.2,239.5 477.2,239.5 478.2,239.5 479.2,239.5 480.2,239.5 481.2,239.5 482.2,239.5 483.2,239.5 484.2,239.5 485.2,239.5 486.2,239.5 487.2,239.5 488.2,239.5 489.2,239.5 490.2,239.5 491.2,239.5 492.2,239.5 493.2,239.5 494.2,239.5 495.2,239.5 496.2,239.5 497.2,239.5 498.2,239.5 499.2,239.5 500.2,239.5 501.2,239.4 502.2,239.4 503.2,239.4 504.2,239.4 505.2,239.4 506.2,239.4 507.2,239.4 508.2,239.4 509.2,239.4 510.2,239.4 511.2,239.4 512.2,239.4 513.2,239.4 514.2,239.4 515.2,239.3 516.2,239.3 517.2,239.3 518.2,239.3 519.2,239.3 520.2,239.3 521.2,239.2 522.2,239.2 523.2,239.2 524.2,239.1 525.2,239.1 526.2,239.1 527.2,239 528.2,238.9 529.2,238.9 530.2,238.8 531.2,238.7 532.2,238.6 533.2,238.5 534.2,238.4 535.2,238.2 536.2,238.1 537.2,237.9 538.2,237.7 539.2,237.5 540.2,237.2 541.2,237 542.2,236.7 543.2,236.4 544.2,236.1 545.2,235.8 546.2,235.5 547.2,235.1 548.2,234.8 549.2,234.4 550.2,234.1 551.2,233.7 552.2,233.3 553.2,233 554.2,232.7 555.2,232.4 556.2,232.1 557.2,231.8 558.2,231.6 559.2,231.5 560.2,231.4 561.2,231.3 562.2,231.3 563.2,231.4 564.2,231.5 565.2,231.6 566.2,231.8 567.2,232 568.2,232.3 569.2,232.6 570.2,232.9 571.2,233.3 572.2,233.6 573.2,234 574.2,234.4 575.2,234.7 576.2,235.1 577.2,235.4 578.2,235.8 579.2,236.1 580.2,236.4 581.2,236.7 582.2,236.9 583.2,237.2 584.2,237.4 585.2,237.6 586.2,237.8 587.2,238 588.2,238.2 589.2,238.3 590.2,238.5 591.2,238.6 592.2,238.7 593.2,238.8 594.2,238.9 595.2,238.9 596.2,239 597.2,239 598.2,239.1 599.2,239.1 600.2,239.2 601.2,239.2 602.2,239.2 603.2,239.3 604.2,239.3 605.2,239.3 606.2,239.3 607.2,239.3 608.2,239.3 609.2,239.4 610.2,239.4 611.2,239.4 612.2,239.4 613.2,239.4 614.2,239.4 615.2,239.4 616.2,239.4 617.2,239.4 618.2,239.4 619.2,239.4 620.2,239.4 621.2,239.4 622.2,239.4 623.2,239.5 624.2,239.5 625.2,239.5 626.2,239.5 627.2,239.5 628.2,239.5 629.2,239.5 630.2,239.5 631.2,239.5 632.2,239.5 633.2,239.5 634.2,239.5 635.2,239.5 636.2,239.5 637.2,239.5 638.2,239.5 639.2,239.5 640.2,239.5 641.2,239.5 642.2,239.5 643.2,239.5 644.2,239.5 645.2,239.5 646.2,239.5 647.2,239.5 648.2,239.5 649.2,239.5 650.2,239.5 651.2,239.5 652.2,239.5 653.2,239.5 654.2,239.5 655.2,239.5 655.2,239.6Z" fill="#f5a25a" fill-opacity="0.6" stroke="none"/>
<path d="M369.2,239.6 370.2,239.6 371.2,239.6 372.2,239.6 373.2,239.6 374.2,239.6 375.2,239.6 376.2,239.6 377.2,239.6 378.2,239.6 379.2,239.6 380.2,239.6 381.2,239.6 382.2,239.6 383.2,239.6 384.2,239.6 385.2,239.6 386.2,239.6 387.2,239.6 388.2,239.6 389.2,239.6 390.2,239.6 391.2,239.6 392.2,239.6 393.2,239.6 394.2,239.6 395.2,239.6 396.2,239.6 397.2,239.6 398.2,239.6 399.2,239.6 400.2,239.6 401.2,239.6 402.2,239.6 403.2,239.6 404.2,239.6 405.2,239.6 406.2,239.6 407.2,239.6 408.2,239.6 409.2,239.6 410.2,239.6 411.2,239.6 412.2,239.6 413.2,239.6 414.2,239.6 415.2,239.6 416.2,239.6 417.2,239.6 418.2,239.6 419.2,239.6 420.2,239.6 421.2,239.6 422.2,239.6 423.2,239.6 424.2,239.6 425.2,239.6 426.2,239.6 427.2,239.6 428.2,239.6 429.2,239.6 430.2,239.6 431.2,239.6 432.2,239.6 433.2,239.6 434.2,239.6 435.2,239.6 436.2,239.6 437.2,239.6 438.2,239.6 439.2,239.6 440.2,239.6 441.2,239.6 442.2,239.6 443.2,239.6 444.2,239.6 445.2,239.6 446.2,239.6 447.2,239.6 448.2,239.6 449.2,239.6 450.2,239.6 451.2,239.6 452.2,239.6 453.2,239.6 454.2,239.5 455.2,239.5 456.2,239.5 457.2,239.5 458.2,239.5 459.2,239.5 460.2,239.5 461.2,239.5 462.2,239.5 463.2,239.5 464.2,239.5 465.2,239.5 466.2,239.5 467.2,239.5 468.2,239.5 469.2,239.5 470.2,239.5 471.2,239.5 472.2,239.5 473.2,239.5 474.2,239.5 475.2,239.5 476.2,239.5 477.2,239.5 478.2,239.5 479.2,239.5 480.2,239.5 481.2,239.5 482.2,239.5 483.2,239.5 484.2,239.5 485.2,239.5 486.2,239.5 487.2,239.5 488.2,239.5 489.2,239.5 490.2,239.5 491.2,239.5 492.2,239.5 493.2,239.5 494.2,239.5 495.2,239.5 496.2,239.5 497.2,239.5 498.2,239.5 499.2,239.5 500.2,239.5 501.2,239.4 502.2,239.4 503.2,239.4 504.2,239.4 505.2,239.4 506.2,239.4 507.2,239.4 508.2,239.4 509.2,239.4 510.2,239.4 511.2,239.4 512.2,239.4 513.2,239.4 514.2,239.4 515.2,239.3 516.2,239.3 517.2,239.3 518.2,239.3 519.2,239.3 520.2,239.3 521.2,239.2 522.2,239.2 523.2,239.2 524.2,239.1 525.2,239.1 526.2,239.1 527.2,239 528.2,238.9 529.2,238.9 530.2,238.8 531.2,238.7 532.2,238.6 533.2,238.5 534.2,238.4 535.2,238.2 536.2,238.1 537.2,237.9 538.2,237.7 539.2,237.5 540.2,237.2 541.2,237 542.2,236.7 543.2,236.4 544.2,236.1 545.2,235.8 546.2,235.5 547.2,235.1 548.2,234.8 549.2,234.4 550.2,234.1 551.2,233.7 552.2,233.3 553.2,233 554.2,232.7 555.2,232.4 556.2,232.1 557.2,231.8 558.2,231.6 559.2,231.5 560.2,231.4 561.2,231.3 562.2,231.3 563.2,231.4 564.2,231.5 565.2,231.6 566.2,231.8 567.2,232 568.2,232.3 569.2,232.6 570.2,232.9 571.2,233.3 572.2,233.6 573.2,234 574.2,234.4 575.2,234.7 576.2,235.1 577.2,235.4 578.2,235.8 579.2,236.1 580.2,236.4 581.2,236.7 582.2,236.9 583.2,237.2 584.2,237.4 585.2,237.6 586.2,237.8 587.2,238 588.2,238.2 589.2,238.3 590.2,238.5 591.2,238.6 592.2,238.7 593.2,238.8 594.2,238.9 595.2,238.9 596.2,239 597.2,239 598.2,239.1 599.2,239.1 600.2,239.2 601.2,239.2 602.2,239.2 603.2,239.3 604.2,239.3 605.2,239.3 606.2,239.3 607.2,239.3 608.2,239.3 609.2,239.4 610.2,239.4 611.2,239.4 612.2,239.4 613.2,239.4 614.2,239.4 615.2,239.4 616.2,239.4 617.2,239.4 618.2,239.4 619.2,239.4 620.2,239.4 621.2,239.4 622.2,239.4 623.2,239.5 624.2,239.5 625.2,239.5 626.2,239.5 627.2,239.5 628.2,239.5 629.2,239.5 630.2,239.5 631.2,239.5 632.2,239.5 633.2,239.5 634.2,239.5 635.2,239.5 636.2,239.5 637.2,239.5 638.2,239.5 639.2,239.5 640.2,239.5 641.2,239.5 642.2,239.5 643.2,239.5 644.2,239.5 645.2,239.5 646.2,239.5 647.2,239.5 648.2,239.5 649.2,239.5 650.2,239.5 651.2,239.5 652.2,239.5 653.2,239.5 654.2,239.5 655.2,239.5" fill="none" stroke="#f28a3a" stroke-width="1.9" stroke-linejoin="round"/>
<path d="M369.2,239.6 369.2,239.6 370.2,239.6 371.2,239.6 372.2,239.6 373.2,239.6 374.2,239.6 375.2,239.6 376.2,239.6 377.2,239.6 378.2,239.6 379.2,239.6 380.2,239.6 381.2,239.6 382.2,239.6 383.2,239.6 384.2,239.6 385.2,239.6 386.2,239.6 387.2,239.6 388.2,239.6 389.2,239.6 390.2,239.6 391.2,239.6 392.2,239.6 393.2,239.6 394.2,239.6 395.2,239.6 396.2,239.6 397.2,239.6 398.2,239.6 399.2,239.6 400.2,239.6 401.2,239.6 402.2,239.6 403.2,239.6 404.2,239.6 405.2,239.6 406.2,239.6 407.2,239.6 408.2,239.6 409.2,239.6 410.2,239.6 411.2,239.6 412.2,239.6 413.2,239.6 414.2,239.6 415.2,239.6 416.2,239.6 417.2,239.5 418.2,239.5 419.2,239.5 420.2,239.5 421.2,239.5 422.2,239.5 423.2,239.5 424.2,239.5 425.2,239.5 426.2,239.5 427.2,239.5 428.2,239.5 429.2,239.5 430.2,239.5 431.2,239.5 432.2,239.5 433.2,239.5 434.2,239.5 435.2,239.5 436.2,239.5 437.2,239.5 438.2,239.5 439.2,239.5 440.2,239.5 441.2,239.5 442.2,239.5 443.2,239.5 444.2,239.5 445.2,239.5 446.2,239.5 447.2,239.5 448.2,239.5 449.2,239.5 450.2,239.5 451.2,239.5 452.2,239.5 453.2,239.5 454.2,239.5 455.2,239.5 456.2,239.5 457.2,239.5 458.2,239.5 459.2,239.5 460.2,239.5 461.2,239.5 462.2,239.5 463.2,239.5 464.2,239.5 465.2,239.5 466.2,239.5 467.2,239.5 468.2,239.5 469.2,239.5 470.2,239.5 471.2,239.5 472.2,239.5 473.2,239.5 474.2,239.5 475.2,239.5 476.2,239.5 477.2,239.5 478.2,239.5 479.2,239.5 480.2,239.5 481.2,239.5 482.2,239.5 483.2,239.5 484.2,239.5 485.2,239.5 486.2,239.5 487.2,239.5 488.2,239.5 489.2,239.5 490.2,239.4 491.2,239.4 492.2,239.4 493.2,239.4 494.2,239.4 495.2,239.4 496.2,239.4 497.2,239.4 498.2,239.4 499.2,239.4 500.2,239.4 501.2,239.4 502.2,239.4 503.2,239.4 504.2,239.4 505.2,239.4 506.2,239.4 507.2,239.4 508.2,239.4 509.2,239.4 510.2,239.4 511.2,239.4 512.2,239.3 513.2,239.3 514.2,239.3 515.2,239.3 516.2,239.3 517.2,239.3 518.2,239.3 519.2,239.3 520.2,239.3 521.2,239.3 522.2,239.3 523.2,239.3 524.2,239.2 525.2,239.2 526.2,239.2 527.2,239.2 528.2,239.2 529.2,239.2 530.2,239.2 531.2,239.2 532.2,239.1 533.2,239.1 534.2,239.1 535.2,239.1 536.2,239.1 537.2,239 538.2,239 539.2,239 540.2,238.9 541.2,238.9 542.2,238.9 543.2,238.8 544.2,238.8 545.2,238.7 546.2,238.6 547.2,238.6 548.2,238.5 549.2,238.4 550.2,238.3 551.2,238.1 552.2,238 553.2,237.8 554.2,237.6 555.2,237.3 556.2,237.1 557.2,236.8 558.2,236.4 559.2,236 560.2,235.6 561.2,235.1 562.2,234.6 563.2,234 564.2,233.4 565.2,232.7 566.2,232 567.2,231.2 568.2,230.3 569.2,229.4 570.2,228.5 571.2,227.6 572.2,226.6 573.2,225.6 574.2,224.6 575.2,223.5 576.2,222.5 577.2,221.6 578.2,220.6 579.2,219.8 580.2,219 581.2,218.3 582.2,217.6 583.2,217.2 584.2,216.8 585.2,216.6 586.2,216.5 587.2,216.6 588.2,216.8 589.2,217.2 590.2,217.6 591.2,218.3 592.2,219 593.2,219.8 594.2,220.6 595.2,221.6 596.2,222.5 597.2,223.5 598.2,224.6 599.2,225.6 600.2,226.6 601.2,227.6 602.2,228.5 603.2,229.4 604.2,230.3 605.2,231.2 606.2,232 607.2,232.7 608.2,233.4 609.2,234 610.2,234.6 611.2,235.1 612.2,235.6 613.2,236 614.2,236.4 615.2,236.8 616.2,237.1 617.2,237.3 618.2,237.6 619.2,237.8 620.2,238 621.2,238.1 622.2,238.3 623.2,238.4 624.2,238.5 625.2,238.6 626.2,238.6 627.2,238.7 628.2,238.8 629.2,238.8 630.2,238.9 631.2,238.9 632.2,238.9 633.2,239 634.2,239 635.2,239 636.2,239.1 637.2,239.1 638.2,239.1 639.2,239.1 640.2,239.1 641.2,239.2 642.2,239.2 643.2,239.2 644.2,239.2 645.2,239.2 646.2,239.2 647.2,239.2 648.2,239.2 649.2,239.3 650.2,239.3 651.2,239.3 652.2,239.3 653.2,239.3 654.2,239.3 655.2,239.3 655.2,239.6Z" fill="#f2a086" fill-opacity="0.8" stroke="none"/>
<path d="M369.2,239.6 370.2,239.6 371.2,239.6 372.2,239.6 373.2,239.6 374.2,239.6 375.2,239.6 376.2,239.6 377.2,239.6 378.2,239.6 379.2,239.6 380.2,239.6 381.2,239.6 382.2,239.6 383.2,239.6 384.2,239.6 385.2,239.6 386.2,239.6 387.2,239.6 388.2,239.6 389.2,239.6 390.2,239.6 391.2,239.6 392.2,239.6 393.2,239.6 394.2,239.6 395.2,239.6 396.2,239.6 397.2,239.6 398.2,239.6 399.2,239.6 400.2,239.6 401.2,239.6 402.2,239.6 403.2,239.6 404.2,239.6 405.2,239.6 406.2,239.6 407.2,239.6 408.2,239.6 409.2,239.6 410.2,239.6 411.2,239.6 412.2,239.6 413.2,239.6 414.2,239.6 415.2,239.6 416.2,239.6 417.2,239.5 418.2,239.5 419.2,239.5 420.2,239.5 421.2,239.5 422.2,239.5 423.2,239.5 424.2,239.5 425.2,239.5 426.2,239.5 427.2,239.5 428.2,239.5 429.2,239.5 430.2,239.5 431.2,239.5 432.2,239.5 433.2,239.5 434.2,239.5 435.2,239.5 436.2,239.5 437.2,239.5 438.2,239.5 439.2,239.5 440.2,239.5 441.2,239.5 442.2,239.5 443.2,239.5 444.2,239.5 445.2,239.5 446.2,239.5 447.2,239.5 448.2,239.5 449.2,239.5 450.2,239.5 451.2,239.5 452.2,239.5 453.2,239.5 454.2,239.5 455.2,239.5 456.2,239.5 457.2,239.5 458.2,239.5 459.2,239.5 460.2,239.5 461.2,239.5 462.2,239.5 463.2,239.5 464.2,239.5 465.2,239.5 466.2,239.5 467.2,239.5 468.2,239.5 469.2,239.5 470.2,239.5 471.2,239.5 472.2,239.5 473.2,239.5 474.2,239.5 475.2,239.5 476.2,239.5 477.2,239.5 478.2,239.5 479.2,239.5 480.2,239.5 481.2,239.5 482.2,239.5 483.2,239.5 484.2,239.5 485.2,239.5 486.2,239.5 487.2,239.5 488.2,239.5 489.2,239.5 490.2,239.4 491.2,239.4 492.2,239.4 493.2,239.4 494.2,239.4 495.2,239.4 496.2,239.4 497.2,239.4 498.2,239.4 499.2,239.4 500.2,239.4 501.2,239.4 502.2,239.4 503.2,239.4 504.2,239.4 505.2,239.4 506.2,239.4 507.2,239.4 508.2,239.4 509.2,239.4 510.2,239.4 511.2,239.4 512.2,239.3 513.2,239.3 514.2,239.3 515.2,239.3 516.2,239.3 517.2,239.3 518.2,239.3 519.2,239.3 520.2,239.3 521.2,239.3 522.2,239.3 523.2,239.3 524.2,239.2 525.2,239.2 526.2,239.2 527.2,239.2 528.2,239.2 529.2,239.2 530.2,239.2 531.2,239.2 532.2,239.1 533.2,239.1 534.2,239.1 535.2,239.1 536.2,239.1 537.2,239 538.2,239 539.2,239 540.2,238.9 541.2,238.9 542.2,238.9 543.2,238.8 544.2,238.8 545.2,238.7 546.2,238.6 547.2,238.6 548.2,238.5 549.2,238.4 550.2,238.3 551.2,238.1 552.2,238 553.2,237.8 554.2,237.6 555.2,237.3 556.2,237.1 557.2,236.8 558.2,236.4 559.2,236 560.2,235.6 561.2,235.1 562.2,234.6 563.2,234 564.2,233.4 565.2,232.7 566.2,232 567.2,231.2 568.2,230.3 569.2,229.4 570.2,228.5 571.2,227.6 572.2,226.6 573.2,225.6 574.2,224.6 575.2,223.5 576.2,222.5 577.2,221.6 578.2,220.6 579.2,219.8 580.2,219 581.2,218.3 582.2,217.6 583.2,217.2 584.2,216.8 585.2,216.6 586.2,216.5 587.2,216.6 588.2,216.8 589.2,217.2 590.2,217.6 591.2,218.3 592.2,219 593.2,219.8 594.2,220.6 595.2,221.6 596.2,222.5 597.2,223.5 598.2,224.6 599.2,225.6 600.2,226.6 601.2,227.6 602.2,228.5 603.2,229.4 604.2,230.3 605.2,231.2 606.2,232 607.2,232.7 608.2,233.4 609.2,234 610.2,234.6 611.2,235.1 612.2,235.6 613.2,236 614.2,236.4 615.2,236.8 616.2,237.1 617.2,237.3 618.2,237.6 619.2,237.8 620.2,238 621.2,238.1 622.2,238.3 623.2,238.4 624.2,238.5 625.2,238.6 626.2,238.6 627.2,238.7 628.2,238.8 629.2,238.8 630.2,238.9 631.2,238.9 632.2,238.9 633.2,239 634.2,239 635.2,239 636.2,239.1 637.2,239.1 638.2,239.1 639.2,239.1 640.2,239.1 641.2,239.2 642.2,239.2 643.2,239.2 644.2,239.2 645.2,239.2 646.2,239.2 647.2,239.2 648.2,239.2 649.2,239.3 650.2,239.3 651.2,239.3 652.2,239.3 653.2,239.3 654.2,239.3 655.2,239.3" fill="none" stroke="#ec6a4c" stroke-width="1.4" stroke-linejoin="round"/>
<path d="M600.2,224.6 601.2,225.6 602.2,226.6 603.2,227.6 604.2,228.5 605.2,229.3 606.2,230.1 607.2,230.9 608.2,231.6 609.2,232.2 610.2,232.8 611.2,233.3 612.2,233.8 613.2,234.3 614.2,234.7 615.2,235 616.2,235.3 617.2,235.6 618.2,235.8 619.2,236 620.2,236.2 621.2,236.4 622.2,236.5 623.2,236.6 624.2,236.7 625.2,236.8 626.2,236.9 627.2,237 628.2,237 629.2,237.1 630.2,237.1 631.2,237.2 632.2,237.2 633.2,237.2 634.2,237.3 635.2,237.3 636.2,237.3 637.2,237.3 638.2,237.3 639.2,237.4 640.2,237.4 641.2,237.4 642.2,237.4 643.2,237.4 644.2,237.4 645.2,237.4 646.2,237.5 647.2,237.5 648.2,237.5 649.2,237.5 650.2,237.5 651.2,237.5 652.2,237.5 653.2,237.5 654.2,237.5 655.2,237.5" fill="none" stroke="#111" stroke-width="2.0" stroke-linejoin="round"/>
<path d="M369.2,347.3 370.2,347.3 371.2,347.2 372.2,347.2 373.2,347.2 374.2,347.2 375.2,347.2 376.2,347.2 377.2,347.2 378.2,347.2 379.2,347.2 380.2,347.2 381.2,347.2 382.2,347.1 383.2,347.1 384.2,347.1 385.2,347.1 386.2,347.1 387.2,347.1 388.2,347.1 389.2,347.1 390.2,347.1 391.2,347 392.2,347 393.2,347 394.2,347 395.2,347 396.2,347 397.2,346.9 398.2,346.9 399.2,346.9 400.2,346.9 401.2,346.9 402.2,346.9 403.2,346.8 404.2,346.8 405.2,346.8 406.2,346.8 407.2,346.8 408.2,346.7 409.2,346.7 410.2,346.7 411.2,346.7 412.2,346.6 413.2,346.6 414.2,346.6 415.2,346.6 416.2,346.5 417.2,346.5 418.2,346.5 419.2,346.4 420.2,346.4 421.2,346.4 422.2,346.3 423.2,346.3 424.2,346.2 425.2,346.2 426.2,346.1 427.2,346.1 428.2,346 429.2,346 430.2,345.9 431.2,345.8 432.2,345.7 433.2,345.6 434.2,345.5 435.2,345.4 436.2,345.3 437.2,345.2 438.2,345 439.2,344.8 440.2,344.7 441.2,344.4 442.2,344.2 443.2,343.9 444.2,343.6 445.2,343.2 446.2,342.8 447.2,342.4 448.2,341.9 449.2,341.3 450.2,340.7 451.2,339.9 452.2,339.1 453.2,338.3 454.2,337.3 455.2,336.2 456.2,335 457.2,333.7 458.2,332.2 459.2,330.7 460.2,329 461.2,327.2 462.2,325.2 463.2,323.1 464.2,320.8 465.2,318.5 466.2,315.9 467.2,313.3 468.2,310.5 469.2,307.6 470.2,304.6 471.2,301.6 472.2,298.4 473.2,295.2 474.2,291.9 475.2,288.7 476.2,285.4 477.2,282.2 478.2,279 479.2,276 480.2,273 481.2,270.2 482.2,267.5 483.2,265.1 484.2,262.9 485.2,261 486.2,259.3 487.2,257.9 488.2,256.8 489.2,256.1 490.2,255.6 491.2,255.5 492.2,255.7 493.2,256.1 494.2,256.8 495.2,257.8 496.2,259 497.2,260.4 498.2,262.1 499.2,263.9 500.2,266 501.2,268.3 502.2,270.7 503.2,273.3 504.2,276 505.2,278.9 506.2,281.8 507.2,284.7 508.2,287.6 509.2,290.4 510.2,293.1 511.2,295.6 512.2,298 513.2,300.1 514.2,302 515.2,303.7 516.2,305.1 517.2,306.3 518.2,307.4 519.2,308.2 520.2,308.9 521.2,309.5 522.2,310 523.2,310.4 524.2,310.9 525.2,311.3 526.2,311.7 527.2,312.1 528.2,312.6 529.2,313.1 530.2,313.7 531.2,314.3 532.2,315 533.2,315.7 534.2,316.4 535.2,317.2 536.2,317.9 537.2,318.7 538.2,319.4 539.2,320.1 540.2,320.8 541.2,321.5 542.2,322.1 543.2,322.6 544.2,323 545.2,323.4 546.2,323.7 547.2,323.9 548.2,324 549.2,324 550.2,323.9 551.2,323.8 552.2,323.6 553.2,323.3 554.2,322.9 555.2,322.5 556.2,322 557.2,321.5 558.2,320.9 559.2,320.4 560.2,319.8 561.2,319.2 562.2,318.6 563.2,318.1 564.2,317.5 565.2,316.9 566.2,316.3 567.2,315.8 568.2,315.3 569.2,314.8 570.2,314.3 571.2,313.9 572.2,313.5 573.2,313.2 574.2,313 575.2,312.9 576.2,312.8 577.2,312.9 578.2,313.1 579.2,313.4 580.2,313.9 581.2,314.4 582.2,315.1 583.2,315.9 584.2,316.9 585.2,317.9 586.2,319 587.2,320.3 588.2,321.6 589.2,322.9 590.2,324.3 591.2,325.7 592.2,327.2 593.2,328.6 594.2,330 595.2,331.4 596.2,332.7 597.2,334 598.2,335.2 599.2,336.3 600.2,337.4 601.2,338.4 602.2,339.3 603.2,340.1 604.2,340.9 605.2,341.6 606.2,342.2 607.2,342.7 608.2,343.2 609.2,343.6 610.2,344 611.2,344.4 612.2,344.6 613.2,344.9 614.2,345.1 615.2,345.3 616.2,345.5 617.2,345.6 618.2,345.8 619.2,345.9 620.2,346 621.2,346.1 622.2,346.2 623.2,346.2 624.2,346.3 625.2,346.4 626.2,346.4 627.2,346.5 628.2,346.5 629.2,346.6 630.2,346.6 631.2,346.7 632.2,346.7 633.2,346.7 634.2,346.8 635.2,346.8 636.2,346.9 637.2,346.9 638.2,346.9 639.2,346.9 640.2,347 641.2,347 642.2,347 643.2,347.1 644.2,347.1 645.2,347.1 646.2,347.1 647.2,347.1 648.2,347.2 649.2,347.2 650.2,347.2 651.2,347.2 652.2,347.2 653.2,347.2 654.2,347.3 655.2,347.3" fill="none" stroke="#111" stroke-width="2.0" stroke-linejoin="round"/>
<path d="M369.2,347.8 369.2,347.3 370.2,347.3 371.2,347.3 372.2,347.3 373.2,347.3 374.2,347.3 375.2,347.3 376.2,347.3 377.2,347.2 378.2,347.2 379.2,347.2 380.2,347.2 381.2,347.2 382.2,347.2 383.2,347.2 384.2,347.2 385.2,347.2 386.2,347.2 387.2,347.1 388.2,347.1 389.2,347.1 390.2,347.1 391.2,347.1 392.2,347.1 393.2,347.1 394.2,347.1 395.2,347 396.2,347 397.2,347 398.2,347 399.2,347 400.2,347 401.2,346.9 402.2,346.9 403.2,346.9 404.2,346.9 405.2,346.9 406.2,346.9 407.2,346.8 408.2,346.8 409.2,346.8 410.2,346.8 411.2,346.7 412.2,346.7 413.2,346.7 414.2,346.7 415.2,346.6 416.2,346.6 417.2,346.6 418.2,346.5 419.2,346.5 420.2,346.5 421.2,346.4 422.2,346.4 423.2,346.4 424.2,346.3 425.2,346.3 426.2,346.2 427.2,346.2 428.2,346.1 429.2,346.1 430.2,346 431.2,345.9 432.2,345.8 433.2,345.8 434.2,345.7 435.2,345.5 436.2,345.4 437.2,345.3 438.2,345.1 439.2,345 440.2,344.8 441.2,344.6 442.2,344.3 443.2,344 444.2,343.7 445.2,343.4 446.2,343 447.2,342.5 448.2,342 449.2,341.5 450.2,340.8 451.2,340.1 452.2,339.3 453.2,338.4 454.2,337.5 455.2,336.4 456.2,335.2 457.2,333.9 458.2,332.4 459.2,330.9 460.2,329.2 461.2,327.4 462.2,325.4 463.2,323.3 464.2,321.1 465.2,318.7 466.2,316.2 467.2,313.5 468.2,310.8 469.2,307.9 470.2,304.9 471.2,301.9 472.2,298.7 473.2,295.5 474.2,292.3 475.2,289 476.2,285.8 477.2,282.6 478.2,279.4 479.2,276.4 480.2,273.4 481.2,270.6 482.2,268 483.2,265.6 484.2,263.5 485.2,261.6 486.2,260 487.2,258.8 488.2,257.9 489.2,257.4 490.2,257.2 491.2,257.4 492.2,258 493.2,258.9 494.2,260.2 495.2,261.8 496.2,263.7 497.2,265.9 498.2,268.3 499.2,270.9 500.2,273.7 501.2,276.7 502.2,279.7 503.2,282.9 504.2,286.1 505.2,289.3 506.2,292.6 507.2,295.8 508.2,299 509.2,302.2 510.2,305.2 511.2,308.2 512.2,311.1 513.2,313.8 514.2,316.4 515.2,318.9 516.2,321.3 517.2,323.5 518.2,325.6 519.2,327.6 520.2,329.4 521.2,331 522.2,332.6 523.2,334 524.2,335.3 525.2,336.5 526.2,337.6 527.2,338.5 528.2,339.4 529.2,340.2 530.2,340.9 531.2,341.5 532.2,342.1 533.2,342.6 534.2,343 535.2,343.4 536.2,343.8 537.2,344.1 538.2,344.3 539.2,344.6 540.2,344.8 541.2,345 542.2,345.2 543.2,345.3 544.2,345.4 545.2,345.6 546.2,345.7 547.2,345.8 548.2,345.8 549.2,345.9 550.2,346 551.2,346.1 552.2,346.1 553.2,346.2 554.2,346.2 555.2,346.3 556.2,346.3 557.2,346.4 558.2,346.4 559.2,346.4 560.2,346.5 561.2,346.5 562.2,346.6 563.2,346.6 564.2,346.6 565.2,346.6 566.2,346.7 567.2,346.7 568.2,346.7 569.2,346.7 570.2,346.8 571.2,346.8 572.2,346.8 573.2,346.8 574.2,346.9 575.2,346.9 576.2,346.9 577.2,346.9 578.2,346.9 579.2,346.9 580.2,347 581.2,347 582.2,347 583.2,347 584.2,347 585.2,347 586.2,347.1 587.2,347.1 588.2,347.1 589.2,347.1 590.2,347.1 591.2,347.1 592.2,347.1 593.2,347.1 594.2,347.2 595.2,347.2 596.2,347.2 597.2,347.2 598.2,347.2 599.2,347.2 600.2,347.2 601.2,347.2 602.2,347.2 603.2,347.2 604.2,347.3 605.2,347.3 606.2,347.3 607.2,347.3 608.2,347.3 609.2,347.3 610.2,347.3 611.2,347.3 612.2,347.3 613.2,347.3 614.2,347.3 615.2,347.3 616.2,347.3 617.2,347.3 618.2,347.4 619.2,347.4 620.2,347.4 621.2,347.4 622.2,347.4 623.2,347.4 624.2,347.4 625.2,347.4 626.2,347.4 627.2,347.4 628.2,347.4 629.2,347.4 630.2,347.4 631.2,347.4 632.2,347.4 633.2,347.4 634.2,347.4 635.2,347.4 636.2,347.4 637.2,347.4 638.2,347.5 639.2,347.5 640.2,347.5 641.2,347.5 642.2,347.5 643.2,347.5 644.2,347.5 645.2,347.5 646.2,347.5 647.2,347.5 648.2,347.5 649.2,347.5 650.2,347.5 651.2,347.5 652.2,347.5 653.2,347.5 654.2,347.5 655.2,347.5 655.2,347.8Z" fill="#84abbe" fill-opacity="0.8" stroke="none"/>
<path d="M369.2,347.3 370.2,347.3 371.2,347.3 372.2,347.3 373.2,347.3 374.2,347.3 375.2,347.3 376.2,347.3 377.2,347.2 378.2,347.2 379.2,347.2 380.2,347.2 381.2,347.2 382.2,347.2 383.2,347.2 384.2,347.2 385.2,347.2 386.2,347.2 387.2,347.1 388.2,347.1 389.2,347.1 390.2,347.1 391.2,347.1 392.2,347.1 393.2,347.1 394.2,347.1 395.2,347 396.2,347 397.2,347 398.2,347 399.2,347 400.2,347 401.2,346.9 402.2,346.9 403.2,346.9 404.2,346.9 405.2,346.9 406.2,346.9 407.2,346.8 408.2,346.8 409.2,346.8 410.2,346.8 411.2,346.7 412.2,346.7 413.2,346.7 414.2,346.7 415.2,346.6 416.2,346.6 417.2,346.6 418.2,346.5 419.2,346.5 420.2,346.5 421.2,346.4 422.2,346.4 423.2,346.4 424.2,346.3 425.2,346.3 426.2,346.2 427.2,346.2 428.2,346.1 429.2,346.1 430.2,346 431.2,345.9 432.2,345.8 433.2,345.8 434.2,345.7 435.2,345.5 436.2,345.4 437.2,345.3 438.2,345.1 439.2,345 440.2,344.8 441.2,344.6 442.2,344.3 443.2,344 444.2,343.7 445.2,343.4 446.2,343 447.2,342.5 448.2,342 449.2,341.5 450.2,340.8 451.2,340.1 452.2,339.3 453.2,338.4 454.2,337.5 455.2,336.4 456.2,335.2 457.2,333.9 458.2,332.4 459.2,330.9 460.2,329.2 461.2,327.4 462.2,325.4 463.2,323.3 464.2,321.1 465.2,318.7 466.2,316.2 467.2,313.5 468.2,310.8 469.2,307.9 470.2,304.9 471.2,301.9 472.2,298.7 473.2,295.5 474.2,292.3 475.2,289 476.2,285.8 477.2,282.6 478.2,279.4 479.2,276.4 480.2,273.4 481.2,270.6 482.2,268 483.2,265.6 484.2,263.5 485.2,261.6 486.2,260 487.2,258.8 488.2,257.9 489.2,257.4 490.2,257.2 491.2,257.4 492.2,258 493.2,258.9 494.2,260.2 495.2,261.8 496.2,263.7 497.2,265.9 498.2,268.3 499.2,270.9 500.2,273.7 501.2,276.7 502.2,279.7 503.2,282.9 504.2,286.1 505.2,289.3 506.2,292.6 507.2,295.8 508.2,299 509.2,302.2 510.2,305.2 511.2,308.2 512.2,311.1 513.2,313.8 514.2,316.4 515.2,318.9 516.2,321.3 517.2,323.5 518.2,325.6 519.2,327.6 520.2,329.4 521.2,331 522.2,332.6 523.2,334 524.2,335.3 525.2,336.5 526.2,337.6 527.2,338.5 528.2,339.4 529.2,340.2 530.2,340.9 531.2,341.5 532.2,342.1 533.2,342.6 534.2,343 535.2,343.4 536.2,343.8 537.2,344.1 538.2,344.3 539.2,344.6 540.2,344.8 541.2,345 542.2,345.2 543.2,345.3 544.2,345.4 545.2,345.6 546.2,345.7 547.2,345.8 548.2,345.8 549.2,345.9 550.2,346 551.2,346.1 552.2,346.1 553.2,346.2 554.2,346.2 555.2,346.3 556.2,346.3 557.2,346.4 558.2,346.4 559.2,346.4 560.2,346.5 561.2,346.5 562.2,346.6 563.2,346.6 564.2,346.6 565.2,346.6 566.2,346.7 567.2,346.7 568.2,346.7 569.2,346.7 570.2,346.8 571.2,346.8 572.2,346.8 573.2,346.8 574.2,346.9 575.2,346.9 576.2,346.9 577.2,346.9 578.2,346.9 579.2,346.9 580.2,347 581.2,347 582.2,347 583.2,347 584.2,347 585.2,347 586.2,347.1 587.2,347.1 588.2,347.1 589.2,347.1 590.2,347.1 591.2,347.1 592.2,347.1 593.2,347.1 594.2,347.2 595.2,347.2 596.2,347.2 597.2,347.2 598.2,347.2 599.2,347.2 600.2,347.2 601.2,347.2 602.2,347.2 603.2,347.2 604.2,347.3 605.2,347.3 606.2,347.3 607.2,347.3 608.2,347.3 609.2,347.3 610.2,347.3 611.2,347.3 612.2,347.3 613.2,347.3 614.2,347.3 615.2,347.3 616.2,347.3 617.2,347.3 618.2,347.4 619.2,347.4 620.2,347.4 621.2,347.4 622.2,347.4 623.2,347.4 624.2,347.4 625.2,347.4 626.2,347.4 627.2,347.4 628.2,347.4 629.2,347.4 630.2,347.4 631.2,347.4 632.2,347.4 633.2,347.4 634.2,347.4 635.2,347.4 636.2,347.4 637.2,347.4 638.2,347.5 639.2,347.5 640.2,347.5 641.2,347.5 642.2,347.5 643.2,347.5 644.2,347.5 645.2,347.5 646.2,347.5 647.2,347.5 648.2,347.5 649.2,347.5 650.2,347.5 651.2,347.5 652.2,347.5 653.2,347.5 654.2,347.5 655.2,347.5" fill="none" stroke="#3090a6" stroke-width="2.0" stroke-linejoin="round"/>
<path d="M369.2,348.8 369.2,348.7 370.2,348.7 371.2,348.7 372.2,348.7 373.2,348.7 374.2,348.7 375.2,348.7 376.2,348.7 377.2,348.7 378.2,348.7 379.2,348.7 380.2,348.7 381.2,348.7 382.2,348.7 383.2,348.7 384.2,348.7 385.2,348.7 386.2,348.7 387.2,348.7 388.2,348.7 389.2,348.7 390.2,348.7 391.2,348.7 392.2,348.7 393.2,348.7 394.2,348.7 395.2,348.7 396.2,348.7 397.2,348.7 398.2,348.7 399.2,348.7 400.2,348.7 401.2,348.7 402.2,348.7 403.2,348.7 404.2,348.7 405.2,348.7 406.2,348.7 407.2,348.7 408.2,348.7 409.2,348.7 410.2,348.7 411.2,348.7 412.2,348.7 413.2,348.7 414.2,348.7 415.2,348.7 416.2,348.7 417.2,348.7 418.2,348.7 419.2,348.7 420.2,348.7 421.2,348.7 422.2,348.7 423.2,348.7 424.2,348.7 425.2,348.7 426.2,348.7 427.2,348.7 428.2,348.7 429.2,348.7 430.2,348.7 431.2,348.7 432.2,348.7 433.2,348.7 434.2,348.7 435.2,348.7 436.2,348.7 437.2,348.7 438.2,348.7 439.2,348.7 440.2,348.7 441.2,348.7 442.2,348.7 443.2,348.7 444.2,348.7 445.2,348.7 446.2,348.7 447.2,348.7 448.2,348.7 449.2,348.7 450.2,348.7 451.2,348.7 452.2,348.7 453.2,348.7 454.2,348.7 455.2,348.6 456.2,348.6 457.2,348.6 458.2,348.6 459.2,348.6 460.2,348.6 461.2,348.6 462.2,348.6 463.2,348.6 464.2,348.6 465.2,348.6 466.2,348.6 467.2,348.6 468.2,348.6 469.2,348.6 470.2,348.6 471.2,348.6 472.2,348.6 473.2,348.6 474.2,348.6 475.2,348.6 476.2,348.6 477.2,348.5 478.2,348.5 479.2,348.5 480.2,348.5 481.2,348.5 482.2,348.5 483.2,348.5 484.2,348.5 485.2,348.5 486.2,348.4 487.2,348.4 488.2,348.4 489.2,348.3 490.2,348.3 491.2,348.2 492.2,348.2 493.2,348.1 494.2,348 495.2,347.9 496.2,347.8 497.2,347.6 498.2,347.4 499.2,347.2 500.2,347 501.2,346.7 502.2,346.3 503.2,345.9 504.2,345.4 505.2,344.9 506.2,344.3 507.2,343.6 508.2,342.9 509.2,342.1 510.2,341.2 511.2,340.3 512.2,339.3 513.2,338.2 514.2,337.1 515.2,336 516.2,334.8 517.2,333.6 518.2,332.5 519.2,331.4 520.2,330.3 521.2,329.3 522.2,328.5 523.2,327.7 524.2,327.1 525.2,326.6 526.2,326.3 527.2,326.1 528.2,326.1 529.2,326.4 530.2,326.7 531.2,327.3 532.2,328 533.2,328.8 534.2,329.7 535.2,330.7 536.2,331.8 537.2,332.9 538.2,334.1 539.2,335.3 540.2,336.4 541.2,337.5 542.2,338.6 543.2,339.7 544.2,340.6 545.2,341.6 546.2,342.4 547.2,343.2 548.2,343.9 549.2,344.5 550.2,345.1 551.2,345.6 552.2,346.1 553.2,346.4 554.2,346.8 555.2,347.1 556.2,347.3 557.2,347.5 558.2,347.7 559.2,347.8 560.2,348 561.2,348.1 562.2,348.1 563.2,348.2 564.2,348.3 565.2,348.3 566.2,348.4 567.2,348.4 568.2,348.4 569.2,348.4 570.2,348.5 571.2,348.5 572.2,348.5 573.2,348.5 574.2,348.5 575.2,348.5 576.2,348.5 577.2,348.5 578.2,348.6 579.2,348.6 580.2,348.6 581.2,348.6 582.2,348.6 583.2,348.6 584.2,348.6 585.2,348.6 586.2,348.6 587.2,348.6 588.2,348.6 589.2,348.6 590.2,348.6 591.2,348.6 592.2,348.6 593.2,348.6 594.2,348.6 595.2,348.6 596.2,348.6 597.2,348.6 598.2,348.6 599.2,348.6 600.2,348.7 601.2,348.7 602.2,348.7 603.2,348.7 604.2,348.7 605.2,348.7 606.2,348.7 607.2,348.7 608.2,348.7 609.2,348.7 610.2,348.7 611.2,348.7 612.2,348.7 613.2,348.7 614.2,348.7 615.2,348.7 616.2,348.7 617.2,348.7 618.2,348.7 619.2,348.7 620.2,348.7 621.2,348.7 622.2,348.7 623.2,348.7 624.2,348.7 625.2,348.7 626.2,348.7 627.2,348.7 628.2,348.7 629.2,348.7 630.2,348.7 631.2,348.7 632.2,348.7 633.2,348.7 634.2,348.7 635.2,348.7 636.2,348.7 637.2,348.7 638.2,348.7 639.2,348.7 640.2,348.7 641.2,348.7 642.2,348.7 643.2,348.7 644.2,348.7 645.2,348.7 646.2,348.7 647.2,348.7 648.2,348.7 649.2,348.7 650.2,348.7 651.2,348.7 652.2,348.7 653.2,348.7 654.2,348.7 655.2,348.7 655.2,348.8Z" fill="#7ba3d0" fill-opacity="0.6" stroke="none"/>
<path d="M369.2,348.7 370.2,348.7 371.2,348.7 372.2,348.7 373.2,348.7 374.2,348.7 375.2,348.7 376.2,348.7 377.2,348.7 378.2,348.7 379.2,348.7 380.2,348.7 381.2,348.7 382.2,348.7 383.2,348.7 384.2,348.7 385.2,348.7 386.2,348.7 387.2,348.7 388.2,348.7 389.2,348.7 390.2,348.7 391.2,348.7 392.2,348.7 393.2,348.7 394.2,348.7 395.2,348.7 396.2,348.7 397.2,348.7 398.2,348.7 399.2,348.7 400.2,348.7 401.2,348.7 402.2,348.7 403.2,348.7 404.2,348.7 405.2,348.7 406.2,348.7 407.2,348.7 408.2,348.7 409.2,348.7 410.2,348.7 411.2,348.7 412.2,348.7 413.2,348.7 414.2,348.7 415.2,348.7 416.2,348.7 417.2,348.7 418.2,348.7 419.2,348.7 420.2,348.7 421.2,348.7 422.2,348.7 423.2,348.7 424.2,348.7 425.2,348.7 426.2,348.7 427.2,348.7 428.2,348.7 429.2,348.7 430.2,348.7 431.2,348.7 432.2,348.7 433.2,348.7 434.2,348.7 435.2,348.7 436.2,348.7 437.2,348.7 438.2,348.7 439.2,348.7 440.2,348.7 441.2,348.7 442.2,348.7 443.2,348.7 444.2,348.7 445.2,348.7 446.2,348.7 447.2,348.7 448.2,348.7 449.2,348.7 450.2,348.7 451.2,348.7 452.2,348.7 453.2,348.7 454.2,348.7 455.2,348.6 456.2,348.6 457.2,348.6 458.2,348.6 459.2,348.6 460.2,348.6 461.2,348.6 462.2,348.6 463.2,348.6 464.2,348.6 465.2,348.6 466.2,348.6 467.2,348.6 468.2,348.6 469.2,348.6 470.2,348.6 471.2,348.6 472.2,348.6 473.2,348.6 474.2,348.6 475.2,348.6 476.2,348.6 477.2,348.5 478.2,348.5 479.2,348.5 480.2,348.5 481.2,348.5 482.2,348.5 483.2,348.5 484.2,348.5 485.2,348.5 486.2,348.4 487.2,348.4 488.2,348.4 489.2,348.3 490.2,348.3 491.2,348.2 492.2,348.2 493.2,348.1 494.2,348 495.2,347.9 496.2,347.8 497.2,347.6 498.2,347.4 499.2,347.2 500.2,347 501.2,346.7 502.2,346.3 503.2,345.9 504.2,345.4 505.2,344.9 506.2,344.3 507.2,343.6 508.2,342.9 509.2,342.1 510.2,341.2 511.2,340.3 512.2,339.3 513.2,338.2 514.2,337.1 515.2,336 516.2,334.8 517.2,333.6 518.2,332.5 519.2,331.4 520.2,330.3 521.2,329.3 522.2,328.5 523.2,327.7 524.2,327.1 525.2,326.6 526.2,326.3 527.2,326.1 528.2,326.1 529.2,326.4 530.2,326.7 531.2,327.3 532.2,328 533.2,328.8 534.2,329.7 535.2,330.7 536.2,331.8 537.2,332.9 538.2,334.1 539.2,335.3 540.2,336.4 541.2,337.5 542.2,338.6 543.2,339.7 544.2,340.6 545.2,341.6 546.2,342.4 547.2,343.2 548.2,343.9 549.2,344.5 550.2,345.1 551.2,345.6 552.2,346.1 553.2,346.4 554.2,346.8 555.2,347.1 556.2,347.3 557.2,347.5 558.2,347.7 559.2,347.8 560.2,348 561.2,348.1 562.2,348.1 563.2,348.2 564.2,348.3 565.2,348.3 566.2,348.4 567.2,348.4 568.2,348.4 569.2,348.4 570.2,348.5 571.2,348.5 572.2,348.5 573.2,348.5 574.2,348.5 575.2,348.5 576.2,348.5 577.2,348.5 578.2,348.6 579.2,348.6 580.2,348.6 581.2,348.6 582.2,348.6 583.2,348.6 584.2,348.6 585.2,348.6 586.2,348.6 587.2,348.6 588.2,348.6 589.2,348.6 590.2,348.6 591.2,348.6 592.2,348.6 593.2,348.6 594.2,348.6 595.2,348.6 596.2,348.6 597.2,348.6 598.2,348.6 599.2,348.6 600.2,348.7 601.2,348.7 602.2,348.7 603.2,348.7 604.2,348.7 605.2,348.7 606.2,348.7 607.2,348.7 608.2,348.7 609.2,348.7 610.2,348.7 611.2,348.7 612.2,348.7 613.2,348.7 614.2,348.7 615.2,348.7 616.2,348.7 617.2,348.7 618.2,348.7 619.2,348.7 620.2,348.7 621.2,348.7 622.2,348.7 623.2,348.7 624.2,348.7 625.2,348.7 626.2,348.7 627.2,348.7 628.2,348.7 629.2,348.7 630.2,348.7 631.2,348.7 632.2,348.7 633.2,348.7 634.2,348.7 635.2,348.7 636.2,348.7 637.2,348.7 638.2,348.7 639.2,348.7 640.2,348.7 641.2,348.7 642.2,348.7 643.2,348.7 644.2,348.7 645.2,348.7 646.2,348.7 647.2,348.7 648.2,348.7 649.2,348.7 650.2,348.7 651.2,348.7 652.2,348.7 653.2,348.7 654.2,348.7 655.2,348.7" fill="none" stroke="#6aa3cc" stroke-width="2.0" stroke-linejoin="round"/>
<path d="M369.2,348.8 369.2,348.7 370.2,348.7 371.2,348.7 372.2,348.7 373.2,348.7 374.2,348.7 375.2,348.7 376.2,348.7 377.2,348.7 378.2,348.7 379.2,348.7 380.2,348.7 381.2,348.7 382.2,348.7 383.2,348.7 384.2,348.7 385.2,348.7 386.2,348.7 387.2,348.7 388.2,348.7 389.2,348.7 390.2,348.7 391.2,348.7 392.2,348.7 393.2,348.7 394.2,348.7 395.2,348.7 396.2,348.7 397.2,348.7 398.2,348.7 399.2,348.7 400.2,348.7 401.2,348.7 402.2,348.7 403.2,348.7 404.2,348.7 405.2,348.7 406.2,348.7 407.2,348.7 408.2,348.7 409.2,348.7 410.2,348.7 411.2,348.7 412.2,348.7 413.2,348.7 414.2,348.7 415.2,348.7 416.2,348.7 417.2,348.7 418.2,348.7 419.2,348.7 420.2,348.7 421.2,348.7 422.2,348.7 423.2,348.7 424.2,348.7 425.2,348.7 426.2,348.7 427.2,348.7 428.2,348.7 429.2,348.7 430.2,348.7 431.2,348.7 432.2,348.7 433.2,348.7 434.2,348.7 435.2,348.7 436.2,348.7 437.2,348.7 438.2,348.7 439.2,348.7 440.2,348.7 441.2,348.7 442.2,348.7 443.2,348.7 444.2,348.7 445.2,348.7 446.2,348.7 447.2,348.7 448.2,348.7 449.2,348.7 450.2,348.7 451.2,348.7 452.2,348.7 453.2,348.7 454.2,348.7 455.2,348.7 456.2,348.7 457.2,348.7 458.2,348.7 459.2,348.7 460.2,348.7 461.2,348.7 462.2,348.7 463.2,348.7 464.2,348.7 465.2,348.7 466.2,348.7 467.2,348.7 468.2,348.7 469.2,348.7 470.2,348.6 471.2,348.6 472.2,348.6 473.2,348.6 474.2,348.6 475.2,348.6 476.2,348.6 477.2,348.6 478.2,348.6 479.2,348.6 480.2,348.6 481.2,348.6 482.2,348.6 483.2,348.6 484.2,348.6 485.2,348.6 486.2,348.6 487.2,348.6 488.2,348.6 489.2,348.6 490.2,348.6 491.2,348.6 492.2,348.6 493.2,348.6 494.2,348.6 495.2,348.6 496.2,348.6 497.2,348.5 498.2,348.5 499.2,348.5 500.2,348.5 501.2,348.5 502.2,348.5 503.2,348.5 504.2,348.5 505.2,348.5 506.2,348.5 507.2,348.5 508.2,348.5 509.2,348.4 510.2,348.4 511.2,348.4 512.2,348.4 513.2,348.4 514.2,348.3 515.2,348.3 516.2,348.3 517.2,348.2 518.2,348.2 519.2,348.2 520.2,348.1 521.2,348 522.2,348 523.2,347.9 524.2,347.8 525.2,347.6 526.2,347.5 527.2,347.3 528.2,347.2 529.2,347 530.2,346.7 531.2,346.5 532.2,346.2 533.2,345.9 534.2,345.5 535.2,345.1 536.2,344.7 537.2,344.2 538.2,343.7 539.2,343.2 540.2,342.6 541.2,342 542.2,341.4 543.2,340.7 544.2,340 545.2,339.3 546.2,338.6 547.2,337.9 548.2,337.2 549.2,336.5 550.2,335.8 551.2,335.1 552.2,334.5 553.2,334 554.2,333.5 555.2,333.1 556.2,332.8 557.2,332.5 558.2,332.4 559.2,332.3 560.2,332.3 561.2,332.5 562.2,332.7 563.2,333.1 564.2,333.5 565.2,333.9 566.2,334.5 567.2,335.1 568.2,335.7 569.2,336.4 570.2,337.1 571.2,337.8 572.2,338.5 573.2,339.2 574.2,339.9 575.2,340.6 576.2,341.3 577.2,341.9 578.2,342.5 579.2,343.1 580.2,343.7 581.2,344.2 582.2,344.6 583.2,345.1 584.2,345.5 585.2,345.8 586.2,346.2 587.2,346.4 588.2,346.7 589.2,346.9 590.2,347.1 591.2,347.3 592.2,347.5 593.2,347.6 594.2,347.7 595.2,347.9 596.2,347.9 597.2,348 598.2,348.1 599.2,348.1 600.2,348.2 601.2,348.2 602.2,348.3 603.2,348.3 604.2,348.3 605.2,348.4 606.2,348.4 607.2,348.4 608.2,348.4 609.2,348.4 610.2,348.5 611.2,348.5 612.2,348.5 613.2,348.5 614.2,348.5 615.2,348.5 616.2,348.5 617.2,348.5 618.2,348.5 619.2,348.5 620.2,348.5 621.2,348.5 622.2,348.6 623.2,348.6 624.2,348.6 625.2,348.6 626.2,348.6 627.2,348.6 628.2,348.6 629.2,348.6 630.2,348.6 631.2,348.6 632.2,348.6 633.2,348.6 634.2,348.6 635.2,348.6 636.2,348.6 637.2,348.6 638.2,348.6 639.2,348.6 640.2,348.6 641.2,348.6 642.2,348.6 643.2,348.6 644.2,348.6 645.2,348.6 646.2,348.6 647.2,348.6 648.2,348.6 649.2,348.7 650.2,348.7 651.2,348.7 652.2,348.7 653.2,348.7 654.2,348.7 655.2,348.7 655.2,348.8Z" fill="#f5a25a" fill-opacity="0.6" stroke="none"/>
<path d="M369.2,348.7 370.2,348.7 371.2,348.7 372.2,348.7 373.2,348.7 374.2,348.7 375.2,348.7 376.2,348.7 377.2,348.7 378.2,348.7 379.2,348.7 380.2,348.7 381.2,348.7 382.2,348.7 383.2,348.7 384.2,348.7 385.2,348.7 386.2,348.7 387.2,348.7 388.2,348.7 389.2,348.7 390.2,348.7 391.2,348.7 392.2,348.7 393.2,348.7 394.2,348.7 395.2,348.7 396.2,348.7 397.2,348.7 398.2,348.7 399.2,348.7 400.2,348.7 401.2,348.7 402.2,348.7 403.2,348.7 404.2,348.7 405.2,348.7 406.2,348.7 407.2,348.7 408.2,348.7 409.2,348.7 410.2,348.7 411.2,348.7 412.2,348.7 413.2,348.7 414.2,348.7 415.2,348.7 416.2,348.7 417.2,348.7 418.2,348.7 419.2,348.7 420.2,348.7 421.2,348.7 422.2,348.7 423.2,348.7 424.2,348.7 425.2,348.7 426.2,348.7 427.2,348.7 428.2,348.7 429.2,348.7 430.2,348.7 431.2,348.7 432.2,348.7 433.2,348.7 434.2,348.7 435.2,348.7 436.2,348.7 437.2,348.7 438.2,348.7 439.2,348.7 440.2,348.7 441.2,348.7 442.2,348.7 443.2,348.7 444.2,348.7 445.2,348.7 446.2,348.7 447.2,348.7 448.2,348.7 449.2,348.7 450.2,348.7 451.2,348.7 452.2,348.7 453.2,348.7 454.2,348.7 455.2,348.7 456.2,348.7 457.2,348.7 458.2,348.7 459.2,348.7 460.2,348.7 461.2,348.7 462.2,348.7 463.2,348.7 464.2,348.7 465.2,348.7 466.2,348.7 467.2,348.7 468.2,348.7 469.2,348.7 470.2,348.6 471.2,348.6 472.2,348.6 473.2,348.6 474.2,348.6 475.2,348.6 476.2,348.6 477.2,348.6 478.2,348.6 479.2,348.6 480.2,348.6 481.2,348.6 482.2,348.6 483.2,348.6 484.2,348.6 485.2,348.6 486.2,348.6 487.2,348.6 488.2,348.6 489.2,348.6 490.2,348.6 491.2,348.6 492.2,348.6 493.2,348.6 494.2,348.6 495.2,348.6 496.2,348.6 497.2,348.5 498.2,348.5 499.2,348.5 500.2,348.5 501.2,348.5 502.2,348.5 503.2,348.5 504.2,348.5 505.2,348.5 506.2,348.5 507.2,348.5 508.2,348.5 509.2,348.4 510.2,348.4 511.2,348.4 512.2,348.4 513.2,348.4 514.2,348.3 515.2,348.3 516.2,348.3 517.2,348.2 518.2,348.2 519.2,348.2 520.2,348.1 521.2,348 522.2,348 523.2,347.9 524.2,347.8 525.2,347.6 526.2,347.5 527.2,347.3 528.2,347.2 529.2,347 530.2,346.7 531.2,346.5 532.2,346.2 533.2,345.9 534.2,345.5 535.2,345.1 536.2,344.7 537.2,344.2 538.2,343.7 539.2,343.2 540.2,342.6 541.2,342 542.2,341.4 543.2,340.7 544.2,340 545.2,339.3 546.2,338.6 547.2,337.9 548.2,337.2 549.2,336.5 550.2,335.8 551.2,335.1 552.2,334.5 553.2,334 554.2,333.5 555.2,333.1 556.2,332.8 557.2,332.5 558.2,332.4 559.2,332.3 560.2,332.3 561.2,332.5 562.2,332.7 563.2,333.1 564.2,333.5 565.2,333.9 566.2,334.5 567.2,335.1 568.2,335.7 569.2,336.4 570.2,337.1 571.2,337.8 572.2,338.5 573.2,339.2 574.2,339.9 575.2,340.6 576.2,341.3 577.2,341.9 578.2,342.5 579.2,343.1 580.2,343.7 581.2,344.2 582.2,344.6 583.2,345.1 584.2,345.5 585.2,345.8 586.2,346.2 587.2,346.4 588.2,346.7 589.2,346.9 590.2,347.1 591.2,347.3 592.2,347.5 593.2,347.6 594.2,347.7 595.2,347.9 596.2,347.9 597.2,348 598.2,348.1 599.2,348.1 600.2,348.2 601.2,348.2 602.2,348.3 603.2,348.3 604.2,348.3 605.2,348.4 606.2,348.4 607.2,348.4 608.2,348.4 609.2,348.4 610.2,348.5 611.2,348.5 612.2,348.5 613.2,348.5 614.2,348.5 615.2,348.5 616.2,348.5 617.2,348.5 618.2,348.5 619.2,348.5 620.2,348.5 621.2,348.5 622.2,348.6 623.2,348.6 624.2,348.6 625.2,348.6 626.2,348.6 627.2,348.6 628.2,348.6 629.2,348.6 630.2,348.6 631.2,348.6 632.2,348.6 633.2,348.6 634.2,348.6 635.2,348.6 636.2,348.6 637.2,348.6 638.2,348.6 639.2,348.6 640.2,348.6 641.2,348.6 642.2,348.6 643.2,348.6 644.2,348.6 645.2,348.6 646.2,348.6 647.2,348.6 648.2,348.6 649.2,348.7 650.2,348.7 651.2,348.7 652.2,348.7 653.2,348.7 654.2,348.7 655.2,348.7" fill="none" stroke="#f28a3a" stroke-width="2.0" stroke-linejoin="round"/>
<path d="M369.2,348.8 369.2,348.8 370.2,348.8 371.2,348.8 372.2,348.8 373.2,348.8 374.2,348.8 375.2,348.8 376.2,348.8 377.2,348.8 378.2,348.8 379.2,348.8 380.2,348.8 381.2,348.8 382.2,348.8 383.2,348.8 384.2,348.8 385.2,348.8 386.2,348.8 387.2,348.8 388.2,348.8 389.2,348.8 390.2,348.8 391.2,348.8 392.2,348.8 393.2,348.8 394.2,348.8 395.2,348.8 396.2,348.8 397.2,348.8 398.2,348.8 399.2,348.8 400.2,348.8 401.2,348.8 402.2,348.8 403.2,348.8 404.2,348.8 405.2,348.8 406.2,348.8 407.2,348.8 408.2,348.8 409.2,348.8 410.2,348.8 411.2,348.8 412.2,348.8 413.2,348.8 414.2,348.8 415.2,348.8 416.2,348.8 417.2,348.8 418.2,348.8 419.2,348.8 420.2,348.8 421.2,348.8 422.2,348.8 423.2,348.8 424.2,348.8 425.2,348.8 426.2,348.8 427.2,348.8 428.2,348.8 429.2,348.8 430.2,348.8 431.2,348.8 432.2,348.8 433.2,348.8 434.2,348.8 435.2,348.8 436.2,348.8 437.2,348.8 438.2,348.8 439.2,348.8 440.2,348.8 441.2,348.8 442.2,348.8 443.2,348.8 444.2,348.8 445.2,348.8 446.2,348.8 447.2,348.8 448.2,348.8 449.2,348.8 450.2,348.8 451.2,348.8 452.2,348.8 453.2,348.8 454.2,348.8 455.2,348.8 456.2,348.8 457.2,348.8 458.2,348.8 459.2,348.8 460.2,348.8 461.2,348.8 462.2,348.8 463.2,348.8 464.2,348.8 465.2,348.8 466.2,348.8 467.2,348.8 468.2,348.8 469.2,348.8 470.2,348.8 471.2,348.8 472.2,348.8 473.2,348.8 474.2,348.8 475.2,348.8 476.2,348.8 477.2,348.8 478.2,348.7 479.2,348.7 480.2,348.7 481.2,348.7 482.2,348.7 483.2,348.7 484.2,348.7 485.2,348.7 486.2,348.7 487.2,348.7 488.2,348.7 489.2,348.7 490.2,348.7 491.2,348.7 492.2,348.7 493.2,348.7 494.2,348.7 495.2,348.7 496.2,348.7 497.2,348.7 498.2,348.7 499.2,348.7 500.2,348.7 501.2,348.7 502.2,348.7 503.2,348.7 504.2,348.7 505.2,348.7 506.2,348.7 507.2,348.7 508.2,348.7 509.2,348.7 510.2,348.7 511.2,348.7 512.2,348.7 513.2,348.7 514.2,348.7 515.2,348.7 516.2,348.7 517.2,348.7 518.2,348.7 519.2,348.7 520.2,348.7 521.2,348.7 522.2,348.7 523.2,348.7 524.2,348.7 525.2,348.7 526.2,348.7 527.2,348.7 528.2,348.7 529.2,348.7 530.2,348.7 531.2,348.7 532.2,348.7 533.2,348.7 534.2,348.7 535.2,348.7 536.2,348.7 537.2,348.7 538.2,348.7 539.2,348.6 540.2,348.6 541.2,348.6 542.2,348.5 543.2,348.5 544.2,348.4 545.2,348.3 546.2,348.2 547.2,348 548.2,347.9 549.2,347.7 550.2,347.4 551.2,347.2 552.2,346.8 553.2,346.4 554.2,346 555.2,345.5 556.2,344.9 557.2,344.3 558.2,343.5 559.2,342.7 560.2,341.8 561.2,340.9 562.2,339.8 563.2,338.7 564.2,337.5 565.2,336.3 566.2,335 567.2,333.7 568.2,332.3 569.2,330.9 570.2,329.6 571.2,328.3 572.2,327 573.2,325.8 574.2,324.7 575.2,323.7 576.2,322.8 577.2,322 578.2,321.4 579.2,321 580.2,320.8 581.2,320.7 582.2,320.8 583.2,321.1 584.2,321.6 585.2,322.2 586.2,322.9 587.2,323.9 588.2,324.9 589.2,326 590.2,327.2 591.2,328.5 592.2,329.9 593.2,331.2 594.2,332.6 595.2,333.9 596.2,335.3 597.2,336.5 598.2,337.8 599.2,338.9 600.2,340 601.2,341.1 602.2,342 603.2,342.9 604.2,343.7 605.2,344.4 606.2,345 607.2,345.6 608.2,346.1 609.2,346.5 610.2,346.9 611.2,347.2 612.2,347.5 613.2,347.7 614.2,347.9 615.2,348.1 616.2,348.2 617.2,348.3 618.2,348.4 619.2,348.5 620.2,348.5 621.2,348.6 622.2,348.6 623.2,348.7 624.2,348.7 625.2,348.7 626.2,348.7 627.2,348.7 628.2,348.7 629.2,348.7 630.2,348.7 631.2,348.7 632.2,348.7 633.2,348.7 634.2,348.7 635.2,348.7 636.2,348.7 637.2,348.7 638.2,348.7 639.2,348.7 640.2,348.7 641.2,348.7 642.2,348.7 643.2,348.7 644.2,348.7 645.2,348.7 646.2,348.7 647.2,348.7 648.2,348.7 649.2,348.7 650.2,348.7 651.2,348.7 652.2,348.7 653.2,348.7 654.2,348.7 655.2,348.7 655.2,348.8Z" fill="#f2a086" fill-opacity="0.8" stroke="none"/>
<path d="M369.2,348.8 370.2,348.8 371.2,348.8 372.2,348.8 373.2,348.8 374.2,348.8 375.2,348.8 376.2,348.8 377.2,348.8 378.2,348.8 379.2,348.8 380.2,348.8 381.2,348.8 382.2,348.8 383.2,348.8 384.2,348.8 385.2,348.8 386.2,348.8 387.2,348.8 388.2,348.8 389.2,348.8 390.2,348.8 391.2,348.8 392.2,348.8 393.2,348.8 394.2,348.8 395.2,348.8 396.2,348.8 397.2,348.8 398.2,348.8 399.2,348.8 400.2,348.8 401.2,348.8 402.2,348.8 403.2,348.8 404.2,348.8 405.2,348.8 406.2,348.8 407.2,348.8 408.2,348.8 409.2,348.8 410.2,348.8 411.2,348.8 412.2,348.8 413.2,348.8 414.2,348.8 415.2,348.8 416.2,348.8 417.2,348.8 418.2,348.8 419.2,348.8 420.2,348.8 421.2,348.8 422.2,348.8 423.2,348.8 424.2,348.8 425.2,348.8 426.2,348.8 427.2,348.8 428.2,348.8 429.2,348.8 430.2,348.8 431.2,348.8 432.2,348.8 433.2,348.8 434.2,348.8 435.2,348.8 436.2,348.8 437.2,348.8 438.2,348.8 439.2,348.8 440.2,348.8 441.2,348.8 442.2,348.8 443.2,348.8 444.2,348.8 445.2,348.8 446.2,348.8 447.2,348.8 448.2,348.8 449.2,348.8 450.2,348.8 451.2,348.8 452.2,348.8 453.2,348.8 454.2,348.8 455.2,348.8 456.2,348.8 457.2,348.8 458.2,348.8 459.2,348.8 460.2,348.8 461.2,348.8 462.2,348.8 463.2,348.8 464.2,348.8 465.2,348.8 466.2,348.8 467.2,348.8 468.2,348.8 469.2,348.8 470.2,348.8 471.2,348.8 472.2,348.8 473.2,348.8 474.2,348.8 475.2,348.8 476.2,348.8 477.2,348.8 478.2,348.7 479.2,348.7 480.2,348.7 481.2,348.7 482.2,348.7 483.2,348.7 484.2,348.7 485.2,348.7 486.2,348.7 487.2,348.7 488.2,348.7 489.2,348.7 490.2,348.7 491.2,348.7 492.2,348.7 493.2,348.7 494.2,348.7 495.2,348.7 496.2,348.7 497.2,348.7 498.2,348.7 499.2,348.7 500.2,348.7 501.2,348.7 502.2,348.7 503.2,348.7 504.2,348.7 505.2,348.7 506.2,348.7 507.2,348.7 508.2,348.7 509.2,348.7 510.2,348.7 511.2,348.7 512.2,348.7 513.2,348.7 514.2,348.7 515.2,348.7 516.2,348.7 517.2,348.7 518.2,348.7 519.2,348.7 520.2,348.7 521.2,348.7 522.2,348.7 523.2,348.7 524.2,348.7 525.2,348.7 526.2,348.7 527.2,348.7 528.2,348.7 529.2,348.7 530.2,348.7 531.2,348.7 532.2,348.7 533.2,348.7 534.2,348.7 535.2,348.7 536.2,348.7 537.2,348.7 538.2,348.7 539.2,348.6 540.2,348.6 541.2,348.6 542.2,348.5 543.2,348.5 544.2,348.4 545.2,348.3 546.2,348.2 547.2,348 548.2,347.9 549.2,347.7 550.2,347.4 551.2,347.2 552.2,346.8 553.2,346.4 554.2,346 555.2,345.5 556.2,344.9 557.2,344.3 558.2,343.5 559.2,342.7 560.2,341.8 561.2,340.9 562.2,339.8 563.2,338.7 564.2,337.5 565.2,336.3 566.2,335 567.2,333.7 568.2,332.3 569.2,330.9 570.2,329.6 571.2,328.3 572.2,327 573.2,325.8 574.2,324.7 575.2,323.7 576.2,322.8 577.2,322 578.2,321.4 579.2,321 580.2,320.8 581.2,320.7 582.2,320.8 583.2,321.1 584.2,321.6 585.2,322.2 586.2,322.9 587.2,323.9 588.2,324.9 589.2,326 590.2,327.2 591.2,328.5 592.2,329.9 593.2,331.2 594.2,332.6 595.2,333.9 596.2,335.3 597.2,336.5 598.2,337.8 599.2,338.9 600.2,340 601.2,341.1 602.2,342 603.2,342.9 604.2,343.7 605.2,344.4 606.2,345 607.2,345.6 608.2,346.1 609.2,346.5 610.2,346.9 611.2,347.2 612.2,347.5 613.2,347.7 614.2,347.9 615.2,348.1 616.2,348.2 617.2,348.3 618.2,348.4 619.2,348.5 620.2,348.5 621.2,348.6 622.2,348.6 623.2,348.7 624.2,348.7 625.2,348.7 626.2,348.7 627.2,348.7 628.2,348.7 629.2,348.7 630.2,348.7 631.2,348.7 632.2,348.7 633.2,348.7 634.2,348.7 635.2,348.7 636.2,348.7 637.2,348.7 638.2,348.7 639.2,348.7 640.2,348.7 641.2,348.7 642.2,348.7 643.2,348.7 644.2,348.7 645.2,348.7 646.2,348.7 647.2,348.7 648.2,348.7 649.2,348.7 650.2,348.7 651.2,348.7 652.2,348.7 653.2,348.7 654.2,348.7 655.2,348.7" fill="none" stroke="#ec6a4c" stroke-width="2.0" stroke-linejoin="round"/>
<path d="M600.2,337.4 601.2,338.4 602.2,339.3 603.2,340.1 604.2,340.9 605.2,341.6 606.2,342.2 607.2,342.7 608.2,343.2 609.2,343.6 610.2,344 611.2,344.4 612.2,344.6 613.2,344.9 614.2,345.1 615.2,345.3 616.2,345.5 617.2,345.6 618.2,345.8 619.2,345.9 620.2,346 621.2,346.1 622.2,346.2 623.2,346.2 624.2,346.3 625.2,346.4 626.2,346.4 627.2,346.5 628.2,346.5 629.2,346.6 630.2,346.6 631.2,346.7 632.2,346.7 633.2,346.7 634.2,346.8 635.2,346.8 636.2,346.9 637.2,346.9 638.2,346.9 639.2,346.9 640.2,347 641.2,347 642.2,347 643.2,347.1 644.2,347.1 645.2,347.1 646.2,347.1 647.2,347.1 648.2,347.2 649.2,347.2 650.2,347.2 651.2,347.2 652.2,347.2 653.2,347.2 654.2,347.3 655.2,347.3" fill="none" stroke="#111" stroke-width="2.0" stroke-linejoin="round"/>
</g>
<rect x="20.5" y="12.8" width="304.3" height="338.1" fill="none" stroke="#231f20" stroke-width="1.3"/>
<line x1="20.5" y1="128.7" x2="324.8" y2="128.7" stroke="#231f20" stroke-width="1.3"/>
<line x1="20.5" y1="238.2" x2="324.8" y2="238.2" stroke="#231f20" stroke-width="1.3"/>
<rect x="369.2" y="11.9" width="304.2" height="337.5" fill="none" stroke="#231f20" stroke-width="1.3"/>
<line x1="369.2" y1="127.8" x2="673.4" y2="127.8" stroke="#231f20" stroke-width="1.3"/>
<line x1="369.2" y1="238.5" x2="673.4" y2="238.5" stroke="#231f20" stroke-width="1.3"/>
<line x1="20.5" y1="238.15" x2="324.8" y2="238.15" stroke="#7a3222" stroke-width="1.6"/>
<line x1="20.5" y1="350.9" x2="324.8" y2="350.9" stroke="#93392a" stroke-width="1.6"/>
<line x1="20.5" y1="350.9" x2="20.5" y2="354.9" stroke="#444" stroke-width="1"/>
<line x1="40.8" y1="350.9" x2="40.8" y2="353.09999999999997" stroke="#444" stroke-width="1"/>
<line x1="61.1" y1="350.9" x2="61.1" y2="354.9" stroke="#444" stroke-width="1"/>
<line x1="81.4" y1="350.9" x2="81.4" y2="353.09999999999997" stroke="#444" stroke-width="1"/>
<line x1="101.7" y1="350.9" x2="101.7" y2="354.9" stroke="#444" stroke-width="1"/>
<line x1="122.0" y1="350.9" x2="122.0" y2="353.09999999999997" stroke="#444" stroke-width="1"/>
<line x1="142.3" y1="350.9" x2="142.3" y2="354.9" stroke="#444" stroke-width="1"/>
<line x1="162.6" y1="350.9" x2="162.6" y2="353.09999999999997" stroke="#444" stroke-width="1"/>
<line x1="182.9" y1="350.9" x2="182.9" y2="354.9" stroke="#444" stroke-width="1"/>
<line x1="203.2" y1="350.9" x2="203.2" y2="353.09999999999997" stroke="#444" stroke-width="1"/>
<line x1="223.5" y1="350.9" x2="223.5" y2="354.9" stroke="#444" stroke-width="1"/>
<line x1="243.8" y1="350.9" x2="243.8" y2="353.09999999999997" stroke="#444" stroke-width="1"/>
<line x1="264.1" y1="350.9" x2="264.1" y2="354.9" stroke="#444" stroke-width="1"/>
<line x1="284.4" y1="350.9" x2="284.4" y2="353.09999999999997" stroke="#444" stroke-width="1"/>
<line x1="304.7" y1="350.9" x2="304.7" y2="354.9" stroke="#444" stroke-width="1"/>
<line x1="325.0" y1="350.9" x2="325.0" y2="353.09999999999997" stroke="#444" stroke-width="1"/>
<line x1="369.2" y1="349.4" x2="369.2" y2="353.4" stroke="#222" stroke-width="1"/>
<line x1="394.5" y1="349.4" x2="394.5" y2="351.59999999999997" stroke="#222" stroke-width="1"/>
<line x1="419.9" y1="349.4" x2="419.9" y2="353.4" stroke="#222" stroke-width="1"/>
<line x1="445.2" y1="349.4" x2="445.2" y2="351.59999999999997" stroke="#222" stroke-width="1"/>
<line x1="470.6" y1="349.4" x2="470.6" y2="353.4" stroke="#222" stroke-width="1"/>
<line x1="495.9" y1="349.4" x2="495.9" y2="351.59999999999997" stroke="#222" stroke-width="1"/>
<line x1="521.2" y1="349.4" x2="521.2" y2="353.4" stroke="#222" stroke-width="1"/>
<line x1="546.6" y1="349.4" x2="546.6" y2="351.59999999999997" stroke="#222" stroke-width="1"/>
<line x1="571.9" y1="349.4" x2="571.9" y2="353.4" stroke="#222" stroke-width="1"/>
<line x1="597.3" y1="349.4" x2="597.3" y2="351.59999999999997" stroke="#222" stroke-width="1"/>
<line x1="622.6" y1="349.4" x2="622.6" y2="353.4" stroke="#222" stroke-width="1"/>
<line x1="647.9" y1="349.4" x2="647.9" y2="351.59999999999997" stroke="#222" stroke-width="1"/>
<line x1="673.3" y1="349.4" x2="673.3" y2="353.4" stroke="#222" stroke-width="1"/>
<g font-family='"Liberation Sans", sans-serif' fill="#231f20">
<text x="20.5" y="370.7" font-size="13.5" font-weight="normal" text-anchor="middle" >452</text>
<text x="61.1" y="370.7" font-size="13.5" font-weight="normal" text-anchor="middle" >454</text>
<text x="101.7" y="370.7" font-size="13.5" font-weight="normal" text-anchor="middle" >456</text>
<text x="142.3" y="370.7" font-size="13.5" font-weight="normal" text-anchor="middle" >458</text>
<text x="182.9" y="370.7" font-size="13.5" font-weight="normal" text-anchor="middle" >460</text>
<text x="223.5" y="370.7" font-size="13.5" font-weight="normal" text-anchor="middle" >462</text>
<text x="264.1" y="370.7" font-size="13.5" font-weight="normal" text-anchor="middle" >464</text>
<text x="304.7" y="370.7" font-size="13.5" font-weight="normal" text-anchor="middle" >466</text>
<text x="369.2" y="370.7" font-size="13.5" font-weight="normal" text-anchor="middle" >280</text>
<text x="419.9" y="370.7" font-size="13.5" font-weight="normal" text-anchor="middle" >282</text>
<text x="470.6" y="370.7" font-size="13.5" font-weight="normal" text-anchor="middle" >284</text>
<text x="521.2" y="370.7" font-size="13.5" font-weight="normal" text-anchor="middle" >286</text>
<text x="571.9" y="370.7" font-size="13.5" font-weight="normal" text-anchor="middle" >288</text>
<text x="622.6" y="370.7" font-size="13.5" font-weight="normal" text-anchor="middle" >290</text>
<text x="673.3" y="370.7" font-size="13.5" font-weight="normal" text-anchor="middle" >292</text>
<text x="0" y="0" font-size="19.5" font-weight="bold" text-anchor="start" transform="translate(1.3 16.9) scale(0.9 1)">a</text>
<text x="0" y="0" font-size="19" font-weight="bold" text-anchor="start" transform="translate(349.7 16.2) scale(1.0 1)">b</text>
<text x="34.3" y="27.7" font-size="13.5" font-weight="normal" text-anchor="start" >Ti 2p</text>
<text x="320.3" y="28" font-size="13.5" font-weight="normal" text-anchor="end" >Carbon dots</text>
<text x="320.3" y="145.4" font-size="13.5" font-weight="normal" text-anchor="end" >Co-TiO<tspan font-size="10.3" dy="3.8">2</tspan></text>
<text x="69.8" y="155.8" font-size="13.5" font-weight="normal" text-anchor="start" >Ti 2p3/2</text>
<text x="195.4" y="201.2" font-size="13.5" font-weight="normal" text-anchor="start" >Ti 2p1/2</text>
<text x="320.3" y="258.4" font-size="13.5" font-weight="normal" text-anchor="end" >Carbon dots/Co-TiO<tspan font-size="10.3" dy="3.8">2</tspan></text>
<text x="172.4" y="390.0" font-size="13.35" font-weight="normal" text-anchor="middle" >Binding energy (eV)</text>
<text x="11.2" y="180.9" font-size="13.5" font-weight="normal" text-anchor="middle" transform="rotate(-90 11.2 180.9)">Intensity (a.u.)</text>
<text x="377.6" y="27.7" font-size="13.5" font-weight="normal" text-anchor="start" >C 1s</text>
<text x="669.5" y="27.5" font-size="13.5" font-weight="normal" text-anchor="end" >Co-TiO<tspan font-size="10.3" dy="3.8">2</tspan></text>
<text x="449.2" y="145.9" font-size="13.5" font-weight="normal" text-anchor="start" >C-C</text>
<text x="669.0" y="147.9" font-size="13.5" font-weight="normal" text-anchor="end" >Carbon dots</text>
<text x="516.0" y="199.6" font-size="13.5" font-weight="normal" text-anchor="start" >C-N</text>
<text x="540.6" y="212.7" font-size="13.5" font-weight="normal" text-anchor="start" >C-O</text>
<text x="576.3" y="199.6" font-size="13.5" font-weight="normal" text-anchor="start" >C=O</text>
<text x="669.7" y="254.8" font-size="13.5" font-weight="normal" text-anchor="end" >Carbon dots/Co-TiO<tspan font-size="10.3" dy="3.8">2</tspan></text>
<text x="521.4" y="390.3" font-size="13.35" font-weight="normal" text-anchor="middle" >Binding energy (eV)</text>
<text x="361.2" y="180.3" font-size="13.5" font-weight="normal" text-anchor="middle" transform="rotate(-90 361.2 180.3)">Intensity (a.u.)</text>
</g>
</svg>
</body></html>
